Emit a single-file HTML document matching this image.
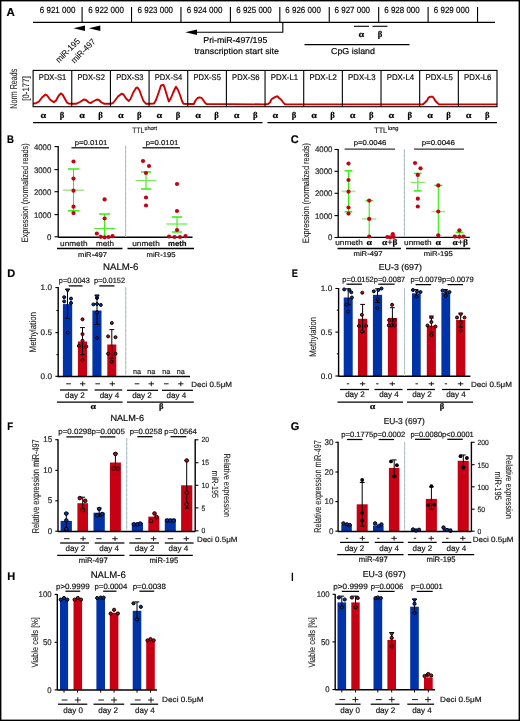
<!DOCTYPE html>
<html><head><meta charset="utf-8"><style>
html,body{margin:0;padding:0;background:#fff;}
svg{display:block;font-family:"Liberation Sans", sans-serif;will-change:transform;text-rendering:geometricPrecision;}
text{stroke:currentColor;stroke-width:0.18px;}
</style></head><body>
<svg width="520" height="721" viewBox="0 0 520 721">
<rect x="0.7" y="0.7" width="518.6" height="719.6" fill="none" stroke="#000" stroke-width="1.4"/>
<text x="6.60" y="15.90" font-size="11.5" text-anchor="start" font-weight="bold" >A</text>
<line x1="33.00" y1="22.40" x2="495.00" y2="22.40" stroke="#000" stroke-width="1.1" />
<line x1="82.10" y1="7.00" x2="82.10" y2="22.40" stroke="#000" stroke-width="1.1" />
<text x="57.60" y="12.65" font-size="8.8" text-anchor="middle" textLength="35.5" lengthAdjust="spacingAndGlyphs" >6 921 000</text>
<line x1="131.53" y1="7.00" x2="131.53" y2="22.40" stroke="#000" stroke-width="1.1" />
<text x="106.10" y="12.65" font-size="8.8" text-anchor="middle" textLength="35.5" lengthAdjust="spacingAndGlyphs" >6 922 000</text>
<line x1="180.96" y1="7.00" x2="180.96" y2="22.40" stroke="#000" stroke-width="1.1" />
<text x="155.30" y="12.65" font-size="8.8" text-anchor="middle" textLength="35.5" lengthAdjust="spacingAndGlyphs" >6 923 000</text>
<line x1="230.39" y1="7.00" x2="230.39" y2="22.40" stroke="#000" stroke-width="1.1" />
<text x="204.60" y="12.65" font-size="8.8" text-anchor="middle" textLength="35.5" lengthAdjust="spacingAndGlyphs" >6 924 000</text>
<line x1="279.82" y1="7.00" x2="279.82" y2="22.40" stroke="#000" stroke-width="1.1" />
<text x="254.00" y="12.65" font-size="8.8" text-anchor="middle" textLength="35.5" lengthAdjust="spacingAndGlyphs" >6 925 000</text>
<line x1="329.25" y1="7.00" x2="329.25" y2="22.40" stroke="#000" stroke-width="1.1" />
<text x="303.10" y="12.65" font-size="8.8" text-anchor="middle" textLength="35.5" lengthAdjust="spacingAndGlyphs" >6 926 000</text>
<line x1="378.68" y1="7.00" x2="378.68" y2="22.40" stroke="#000" stroke-width="1.1" />
<text x="352.30" y="12.65" font-size="8.8" text-anchor="middle" textLength="35.5" lengthAdjust="spacingAndGlyphs" >6 927 000</text>
<line x1="428.11" y1="7.00" x2="428.11" y2="22.40" stroke="#000" stroke-width="1.1" />
<text x="402.00" y="12.65" font-size="8.8" text-anchor="middle" textLength="35.5" lengthAdjust="spacingAndGlyphs" >6 928 000</text>
<line x1="477.54" y1="7.00" x2="477.54" y2="22.40" stroke="#000" stroke-width="1.1" />
<text x="451.60" y="12.65" font-size="8.8" text-anchor="middle" textLength="35.5" lengthAdjust="spacingAndGlyphs" >6 929 000</text>
<polygon points="73.50,28.30 85.00,25.50 85.00,31.10" fill="#000"/>
<polygon points="88.80,28.30 100.30,25.50 100.30,31.10" fill="#000"/>
<text x="0" y="0" font-size="8.7" text-anchor="end" textLength="30.5" lengthAdjust="spacingAndGlyphs" style="stroke-width:0.08px" transform="translate(80.60,41.80) rotate(-45)">miR-195</text>
<text x="0" y="0" font-size="8.7" text-anchor="end" textLength="30.5" lengthAdjust="spacingAndGlyphs" style="stroke-width:0.08px" transform="translate(96.10,42.20) rotate(-45)">miR-497</text>
<polyline points="282.80,22.40 282.80,32.20 195.00,32.20" fill="none" stroke="#000" stroke-width="1.1" />
<polygon points="185.30,32.20 197.00,29.40 197.00,35.10" fill="#000"/>
<text x="235.30" y="42.80" font-size="8.6" text-anchor="middle" textLength="64" lengthAdjust="spacingAndGlyphs" >Pri-miR-497/195</text>
<text x="236.70" y="53.80" font-size="8.6" text-anchor="middle" textLength="84.6" lengthAdjust="spacingAndGlyphs" >transcription start site</text>
<line x1="354.00" y1="26.30" x2="369.00" y2="26.30" stroke="#000" stroke-width="1.1" />
<line x1="372.50" y1="26.30" x2="387.50" y2="26.30" stroke="#000" stroke-width="1.1" />
<text x="361.50" y="37.00" font-size="8.8" text-anchor="middle" font-weight="bold" font-family="Liberation Serif" textLength="5.72" lengthAdjust="spacingAndGlyphs" >α</text>
<text x="380.00" y="37.00" font-size="8.8" text-anchor="middle" font-weight="bold" font-family="Liberation Serif" >β</text>
<line x1="304.50" y1="44.60" x2="409.50" y2="44.60" stroke="#000" stroke-width="1.1" />
<text x="353.00" y="54.00" font-size="8.6" text-anchor="middle" textLength="44" lengthAdjust="spacingAndGlyphs" >CpG island</text>
<polyline points="33.10,103.60 36.00,103.20 39.00,101.50 42.00,97.50 45.40,94.50 47.00,95.30 50.00,99.50 53.80,102.20 56.00,100.50 58.50,96.00 60.80,93.40 62.50,94.50 65.00,99.00 67.00,102.50 68.50,103.60 71.70,103.80 76.00,103.80 80.00,102.00 83.80,99.50 86.00,100.00 88.50,102.30 90.80,103.00 93.00,101.50 96.90,99.50 99.00,100.00 101.50,102.50 104.00,103.70 110.70,103.80 113.00,103.00 115.00,100.50 118.00,96.50 121.60,93.70 123.50,94.50 126.00,98.50 128.80,101.00 130.50,99.00 133.00,93.00 136.00,88.00 137.50,87.50 139.50,90.50 141.50,96.00 143.50,101.00 145.80,103.70 148.80,103.80 154.00,103.50 156.00,100.00 158.50,93.00 161.00,85.50 163.50,84.80 165.00,89.00 166.50,94.00 168.80,101.50 170.50,99.00 173.00,93.00 175.00,88.50 176.00,86.70 178.00,90.00 180.00,95.00 182.00,101.00 183.50,103.70 187.70,104.00 193.80,104.00 195.50,100.50 197.50,98.00 199.70,97.30 201.50,97.80 203.50,100.50 205.00,102.80 206.50,104.00 265.00,104.40 268.00,104.00 270.00,102.50 271.50,99.20 274.00,97.60 276.00,96.60 277.50,96.30 279.00,98.00 281.00,99.50 282.50,101.50 284.50,104.00 286.00,104.40 419.20,104.40 423.00,104.30 425.00,102.50 427.00,100.50 428.50,97.60 430.00,96.80 432.50,96.60 434.00,98.50 435.50,101.00 437.50,103.00 439.00,104.40 497.00,104.40" fill="none" stroke="#cc0000" stroke-width="1.9" stroke-linejoin="round"/>
<rect x="33.1" y="70.4" width="463.9" height="36.3" fill="none" stroke="#000" stroke-width="1.1"/>
<text x="52.53" y="79.80" font-size="8.2" text-anchor="middle" fill="#111" textLength="27.4" lengthAdjust="spacingAndGlyphs" >PDX-S1</text>
<text x="43.45" y="117.90" font-size="8.8" text-anchor="middle" font-weight="bold" font-family="Liberation Serif" textLength="5.72" lengthAdjust="spacingAndGlyphs" >α</text>
<text x="62.00" y="117.90" font-size="8.8" text-anchor="middle" font-weight="bold" font-family="Liberation Serif" >β</text>
<line x1="71.76" y1="70.40" x2="71.76" y2="106.70" stroke="#000" stroke-width="1.1" />
<text x="91.19" y="79.80" font-size="8.2" text-anchor="middle" fill="#111" textLength="27.4" lengthAdjust="spacingAndGlyphs" >PDX-S2</text>
<text x="82.11" y="117.90" font-size="8.8" text-anchor="middle" font-weight="bold" font-family="Liberation Serif" textLength="5.72" lengthAdjust="spacingAndGlyphs" >α</text>
<text x="100.66" y="117.90" font-size="8.8" text-anchor="middle" font-weight="bold" font-family="Liberation Serif" >β</text>
<line x1="110.42" y1="70.40" x2="110.42" y2="106.70" stroke="#000" stroke-width="1.1" />
<text x="129.85" y="79.80" font-size="8.2" text-anchor="middle" fill="#111" textLength="27.4" lengthAdjust="spacingAndGlyphs" >PDX-S3</text>
<text x="120.77" y="117.90" font-size="8.8" text-anchor="middle" font-weight="bold" font-family="Liberation Serif" textLength="5.72" lengthAdjust="spacingAndGlyphs" >α</text>
<text x="139.32" y="117.90" font-size="8.8" text-anchor="middle" font-weight="bold" font-family="Liberation Serif" >β</text>
<line x1="149.07" y1="70.40" x2="149.07" y2="106.70" stroke="#000" stroke-width="1.1" />
<text x="168.50" y="79.80" font-size="8.2" text-anchor="middle" fill="#111" textLength="27.4" lengthAdjust="spacingAndGlyphs" >PDX-S4</text>
<text x="159.42" y="117.90" font-size="8.8" text-anchor="middle" font-weight="bold" font-family="Liberation Serif" textLength="5.72" lengthAdjust="spacingAndGlyphs" >α</text>
<text x="177.97" y="117.90" font-size="8.8" text-anchor="middle" font-weight="bold" font-family="Liberation Serif" >β</text>
<line x1="187.73" y1="70.40" x2="187.73" y2="106.70" stroke="#000" stroke-width="1.1" />
<text x="207.16" y="79.80" font-size="8.2" text-anchor="middle" fill="#111" textLength="27.4" lengthAdjust="spacingAndGlyphs" >PDX-S5</text>
<text x="198.08" y="117.90" font-size="8.8" text-anchor="middle" font-weight="bold" font-family="Liberation Serif" textLength="5.72" lengthAdjust="spacingAndGlyphs" >α</text>
<text x="216.63" y="117.90" font-size="8.8" text-anchor="middle" font-weight="bold" font-family="Liberation Serif" >β</text>
<line x1="226.39" y1="70.40" x2="226.39" y2="106.70" stroke="#000" stroke-width="1.1" />
<text x="245.82" y="79.80" font-size="8.2" text-anchor="middle" fill="#111" textLength="27.4" lengthAdjust="spacingAndGlyphs" >PDX-S6</text>
<text x="236.74" y="117.90" font-size="8.8" text-anchor="middle" font-weight="bold" font-family="Liberation Serif" textLength="5.72" lengthAdjust="spacingAndGlyphs" >α</text>
<text x="255.29" y="117.90" font-size="8.8" text-anchor="middle" font-weight="bold" font-family="Liberation Serif" >β</text>
<line x1="265.05" y1="70.40" x2="265.05" y2="106.70" stroke="#000" stroke-width="1.1" />
<text x="284.48" y="79.80" font-size="8.2" text-anchor="middle" fill="#111" textLength="27.4" lengthAdjust="spacingAndGlyphs" >PDX-L1</text>
<text x="275.40" y="117.90" font-size="8.8" text-anchor="middle" font-weight="bold" font-family="Liberation Serif" textLength="5.72" lengthAdjust="spacingAndGlyphs" >α</text>
<text x="293.95" y="117.90" font-size="8.8" text-anchor="middle" font-weight="bold" font-family="Liberation Serif" >β</text>
<line x1="303.71" y1="70.40" x2="303.71" y2="106.70" stroke="#000" stroke-width="1.1" />
<text x="323.14" y="79.80" font-size="8.2" text-anchor="middle" fill="#111" textLength="27.4" lengthAdjust="spacingAndGlyphs" >PDX-L2</text>
<text x="314.06" y="117.90" font-size="8.8" text-anchor="middle" font-weight="bold" font-family="Liberation Serif" textLength="5.72" lengthAdjust="spacingAndGlyphs" >α</text>
<text x="332.61" y="117.90" font-size="8.8" text-anchor="middle" font-weight="bold" font-family="Liberation Serif" >β</text>
<line x1="342.37" y1="70.40" x2="342.37" y2="106.70" stroke="#000" stroke-width="1.1" />
<text x="361.80" y="79.80" font-size="8.2" text-anchor="middle" fill="#111" textLength="27.4" lengthAdjust="spacingAndGlyphs" >PDX-L3</text>
<text x="352.72" y="117.90" font-size="8.8" text-anchor="middle" font-weight="bold" font-family="Liberation Serif" textLength="5.72" lengthAdjust="spacingAndGlyphs" >α</text>
<text x="371.27" y="117.90" font-size="8.8" text-anchor="middle" font-weight="bold" font-family="Liberation Serif" >β</text>
<line x1="381.02" y1="70.40" x2="381.02" y2="106.70" stroke="#000" stroke-width="1.1" />
<text x="400.45" y="79.80" font-size="8.2" text-anchor="middle" fill="#111" textLength="27.4" lengthAdjust="spacingAndGlyphs" >PDX-L4</text>
<text x="391.38" y="117.90" font-size="8.8" text-anchor="middle" font-weight="bold" font-family="Liberation Serif" textLength="5.72" lengthAdjust="spacingAndGlyphs" >α</text>
<text x="409.92" y="117.90" font-size="8.8" text-anchor="middle" font-weight="bold" font-family="Liberation Serif" >β</text>
<line x1="419.68" y1="70.40" x2="419.68" y2="106.70" stroke="#000" stroke-width="1.1" />
<text x="439.11" y="79.80" font-size="8.2" text-anchor="middle" fill="#111" textLength="27.4" lengthAdjust="spacingAndGlyphs" >PDX-L5</text>
<text x="430.03" y="117.90" font-size="8.8" text-anchor="middle" font-weight="bold" font-family="Liberation Serif" textLength="5.72" lengthAdjust="spacingAndGlyphs" >α</text>
<text x="448.58" y="117.90" font-size="8.8" text-anchor="middle" font-weight="bold" font-family="Liberation Serif" >β</text>
<line x1="458.34" y1="70.40" x2="458.34" y2="106.70" stroke="#000" stroke-width="1.1" />
<text x="477.77" y="79.80" font-size="8.2" text-anchor="middle" fill="#111" textLength="27.4" lengthAdjust="spacingAndGlyphs" >PDX-L6</text>
<text x="468.69" y="117.90" font-size="8.8" text-anchor="middle" font-weight="bold" font-family="Liberation Serif" textLength="5.72" lengthAdjust="spacingAndGlyphs" >α</text>
<text x="487.24" y="117.90" font-size="8.8" text-anchor="middle" font-weight="bold" font-family="Liberation Serif" >β</text>
<text x="0" y="0" font-size="10" text-anchor="middle" textLength="40" lengthAdjust="spacingAndGlyphs" fill="#222" style="stroke-width:0.08px" transform="translate(17.00,88.70) rotate(-90)">Norm Reads</text>
<text x="0" y="0" font-size="9.4" text-anchor="middle" textLength="24.5" lengthAdjust="spacingAndGlyphs" fill="#222" style="stroke-width:0.08px" transform="translate(29.10,88.50) rotate(-90)">[0-177]</text>
<line x1="33.00" y1="122.60" x2="262.50" y2="122.60" stroke="#000" stroke-width="1.3" />
<line x1="267.50" y1="122.60" x2="497.00" y2="122.60" stroke="#000" stroke-width="1.3" />
<text x="132.30" y="133.00" font-size="8" text-anchor="start" fill="#333" textLength="11.9" lengthAdjust="spacingAndGlyphs" >TTL</text>
<text x="144.60" y="130.00" font-size="5.6" text-anchor="start" fill="#333" textLength="12.4" lengthAdjust="spacingAndGlyphs" >short</text>
<text x="374.20" y="133.00" font-size="8" text-anchor="start" fill="#333" textLength="13" lengthAdjust="spacingAndGlyphs" >TTL</text>
<text x="387.70" y="129.60" font-size="5.6" text-anchor="start" fill="#333" textLength="10.8" lengthAdjust="spacingAndGlyphs" >long</text>
<text x="7.10" y="142.90" font-size="11" text-anchor="start" font-weight="bold" textLength="6.9" lengthAdjust="spacingAndGlyphs" >B</text>
<line x1="58.20" y1="146.10" x2="58.20" y2="237.30" stroke="#000" stroke-width="1.3" />
<line x1="54.50" y1="146.60" x2="58.20" y2="146.60" stroke="#000" stroke-width="1.1" />
<text x="51.30" y="149.50" font-size="8.1" text-anchor="end" fill="#333" textLength="17.4" lengthAdjust="spacingAndGlyphs" >4000</text>
<line x1="54.50" y1="169.60" x2="58.20" y2="169.60" stroke="#000" stroke-width="1.1" />
<text x="51.30" y="172.50" font-size="8.1" text-anchor="end" fill="#333" textLength="17.4" lengthAdjust="spacingAndGlyphs" >3000</text>
<line x1="54.50" y1="191.70" x2="58.20" y2="191.70" stroke="#000" stroke-width="1.1" />
<text x="51.30" y="194.60" font-size="8.1" text-anchor="end" fill="#333" textLength="17.4" lengthAdjust="spacingAndGlyphs" >2000</text>
<line x1="54.50" y1="214.60" x2="58.20" y2="214.60" stroke="#000" stroke-width="1.1" />
<text x="51.30" y="217.50" font-size="8.1" text-anchor="end" fill="#333" textLength="17.4" lengthAdjust="spacingAndGlyphs" >1000</text>
<line x1="54.50" y1="236.80" x2="58.20" y2="236.80" stroke="#000" stroke-width="1.1" />
<text x="51.30" y="239.70" font-size="8.1" text-anchor="end" fill="#333" textLength="4.35" lengthAdjust="spacingAndGlyphs" >0</text>
<text x="0" y="0" font-size="9.3" text-anchor="middle" textLength="99" lengthAdjust="spacingAndGlyphs" fill="#222" style="stroke-width:0.08px" transform="translate(28.40,192.80) rotate(-90)">Expression (normalized reads)</text>
<line x1="58.20" y1="237.30" x2="192.50" y2="237.30" stroke="#000" stroke-width="1.4" />
<line x1="125.60" y1="146.00" x2="125.60" y2="237.00" stroke="#b6c7cc" stroke-width="1.0" />
<line x1="125.60" y1="146.00" x2="125.60" y2="237.00" stroke="#aabcc1" stroke-width="1.0"  stroke-dasharray="3,1.6"/>
<text x="91.00" y="144.90" font-size="7" text-anchor="middle" fill="#222" textLength="32.7" lengthAdjust="spacingAndGlyphs" >p=0.0101</text>
<line x1="71.50" y1="147.70" x2="109.00" y2="147.70" stroke="#333" stroke-width="1.35" />
<text x="162.00" y="144.90" font-size="7" text-anchor="middle" fill="#222" textLength="32.7" lengthAdjust="spacingAndGlyphs" >p=0.0101</text>
<line x1="142.50" y1="147.70" x2="180.00" y2="147.70" stroke="#333" stroke-width="1.35" />
<line x1="73.50" y1="169.00" x2="73.50" y2="210.80" stroke="#30f00c" stroke-width="1.1" />
<line x1="68.00" y1="169.00" x2="79.00" y2="169.00" stroke="#30f00c" stroke-width="1.5" />
<line x1="68.00" y1="210.80" x2="79.00" y2="210.80" stroke="#30f00c" stroke-width="1.5" />
<line x1="63.00" y1="190.20" x2="84.00" y2="190.20" stroke="#b3e399" stroke-width="1.7" />
<circle cx="73.50" cy="161.50" r="2.1" fill="#c80014" stroke="none" stroke-width="0"/>
<circle cx="73.50" cy="178.60" r="2.1" fill="#c80014" stroke="none" stroke-width="0"/>
<circle cx="73.50" cy="190.70" r="2.1" fill="#c80014" stroke="none" stroke-width="0"/>
<circle cx="73.50" cy="206.70" r="2.1" fill="#c80014" stroke="none" stroke-width="0"/>
<circle cx="73.50" cy="213.10" r="2.1" fill="#c80014" stroke="none" stroke-width="0"/>
<line x1="104.60" y1="214.00" x2="104.60" y2="237.00" stroke="#30f00c" stroke-width="1.1" />
<line x1="99.10" y1="214.00" x2="110.10" y2="214.00" stroke="#30f00c" stroke-width="1.5" />
<line x1="94.10" y1="228.50" x2="115.10" y2="228.50" stroke="#4ef02a" stroke-width="1.1" />
<circle cx="104.60" cy="199.40" r="2.1" fill="#c80014" stroke="none" stroke-width="0"/>
<circle cx="104.60" cy="218.50" r="2.1" fill="#c80014" stroke="none" stroke-width="0"/>
<circle cx="96.80" cy="233.50" r="2.1" fill="#c80014" stroke="none" stroke-width="0"/>
<circle cx="100.70" cy="236.80" r="2.1" fill="#c80014" stroke="none" stroke-width="0"/>
<circle cx="104.60" cy="237.30" r="2.1" fill="#c80014" stroke="none" stroke-width="0"/>
<circle cx="108.50" cy="237.00" r="2.1" fill="#c80014" stroke="none" stroke-width="0"/>
<circle cx="112.50" cy="236.20" r="2.1" fill="#c80014" stroke="none" stroke-width="0"/>
<line x1="146.00" y1="172.00" x2="146.00" y2="189.00" stroke="#30f00c" stroke-width="1.1" />
<line x1="141.00" y1="172.00" x2="151.00" y2="172.00" stroke="#30f00c" stroke-width="1.5" />
<line x1="141.00" y1="189.00" x2="151.00" y2="189.00" stroke="#30f00c" stroke-width="1.5" />
<line x1="135.50" y1="180.50" x2="156.50" y2="180.50" stroke="#7ee35a" stroke-width="1.1" />
<circle cx="143.00" cy="161.00" r="2.1" fill="#c80014" stroke="none" stroke-width="0"/>
<circle cx="149.00" cy="166.00" r="2.1" fill="#c80014" stroke="none" stroke-width="0"/>
<circle cx="146.00" cy="173.00" r="2.1" fill="#c80014" stroke="none" stroke-width="0"/>
<circle cx="146.00" cy="197.50" r="2.1" fill="#c80014" stroke="none" stroke-width="0"/>
<circle cx="146.00" cy="205.50" r="2.1" fill="#c80014" stroke="none" stroke-width="0"/>
<line x1="177.00" y1="217.00" x2="177.00" y2="232.00" stroke="#30f00c" stroke-width="1.1" />
<line x1="172.00" y1="217.00" x2="182.00" y2="217.00" stroke="#30f00c" stroke-width="1.5" />
<line x1="172.00" y1="232.00" x2="182.00" y2="232.00" stroke="#30f00c" stroke-width="1.5" />
<line x1="166.50" y1="224.00" x2="187.50" y2="224.00" stroke="#4ef02a" stroke-width="1.1" />
<circle cx="177.00" cy="184.00" r="2.1" fill="#c80014" stroke="none" stroke-width="0"/>
<circle cx="177.00" cy="211.00" r="2.1" fill="#c80014" stroke="none" stroke-width="0"/>
<circle cx="177.00" cy="230.00" r="2.1" fill="#c80014" stroke="none" stroke-width="0"/>
<circle cx="169.00" cy="236.50" r="2.1" fill="#c80014" stroke="none" stroke-width="0"/>
<circle cx="174.50" cy="237.00" r="2.1" fill="#c80014" stroke="none" stroke-width="0"/>
<circle cx="180.00" cy="237.00" r="2.1" fill="#c80014" stroke="none" stroke-width="0"/>
<circle cx="185.50" cy="236.20" r="2.1" fill="#c80014" stroke="none" stroke-width="0"/>
<text x="73.80" y="245.70" font-size="7.6" text-anchor="middle" fill="#222" textLength="27.5" lengthAdjust="spacingAndGlyphs" >unmeth</text>
<text x="105.00" y="245.70" font-size="7.6" text-anchor="middle" fill="#222" textLength="18" lengthAdjust="spacingAndGlyphs" >meth</text>
<text x="146.00" y="245.70" font-size="7.6" text-anchor="middle" fill="#222" textLength="27.5" lengthAdjust="spacingAndGlyphs" >unmeth</text>
<text x="177.30" y="245.70" font-size="7.6" text-anchor="middle" font-weight="bold" fill="#111" textLength="18.6" lengthAdjust="spacingAndGlyphs" >meth</text>
<line x1="57.00" y1="248.50" x2="122.50" y2="248.50" stroke="#000" stroke-width="1.3" />
<line x1="127.50" y1="248.50" x2="194.00" y2="248.50" stroke="#000" stroke-width="1.3" />
<text x="92.50" y="257.00" font-size="7" text-anchor="middle" fill="#222" textLength="29" lengthAdjust="spacingAndGlyphs" >miR-497</text>
<text x="161.00" y="257.00" font-size="7" text-anchor="middle" fill="#222" textLength="29" lengthAdjust="spacingAndGlyphs" >miR-195</text>
<text x="290.80" y="142.90" font-size="11" text-anchor="start" font-weight="bold" >C</text>
<line x1="338.20" y1="149.00" x2="338.20" y2="238.00" stroke="#000" stroke-width="1.3" />
<line x1="334.50" y1="149.50" x2="338.20" y2="149.50" stroke="#000" stroke-width="1.1" />
<text x="332.40" y="152.40" font-size="8.1" text-anchor="end" fill="#333" textLength="17.4" lengthAdjust="spacingAndGlyphs" >4000</text>
<line x1="334.50" y1="171.30" x2="338.20" y2="171.30" stroke="#000" stroke-width="1.1" />
<text x="332.40" y="174.20" font-size="8.1" text-anchor="end" fill="#333" textLength="17.4" lengthAdjust="spacingAndGlyphs" >3000</text>
<line x1="334.50" y1="193.30" x2="338.20" y2="193.30" stroke="#000" stroke-width="1.1" />
<text x="332.40" y="196.20" font-size="8.1" text-anchor="end" fill="#333" textLength="17.4" lengthAdjust="spacingAndGlyphs" >2000</text>
<line x1="334.50" y1="215.60" x2="338.20" y2="215.60" stroke="#000" stroke-width="1.1" />
<text x="332.40" y="218.50" font-size="8.1" text-anchor="end" fill="#333" textLength="17.4" lengthAdjust="spacingAndGlyphs" >1000</text>
<line x1="334.50" y1="237.50" x2="338.20" y2="237.50" stroke="#000" stroke-width="1.1" />
<text x="332.40" y="240.40" font-size="8.1" text-anchor="end" fill="#333" textLength="4.35" lengthAdjust="spacingAndGlyphs" >0</text>
<text x="0" y="0" font-size="9.3" text-anchor="middle" textLength="100" lengthAdjust="spacingAndGlyphs" fill="#222" style="stroke-width:0.08px" transform="translate(309.30,193.00) rotate(-90)">Expression (normalized reads)</text>
<line x1="338.20" y1="237.40" x2="469.80" y2="237.40" stroke="#000" stroke-width="1.4" />
<line x1="404.40" y1="149.50" x2="404.40" y2="237.00" stroke="#b6c7cc" stroke-width="1.0" />
<line x1="404.40" y1="149.50" x2="404.40" y2="237.00" stroke="#aabcc1" stroke-width="1.0"  stroke-dasharray="3,1.6"/>
<text x="370.00" y="145.40" font-size="7" text-anchor="middle" fill="#222" textLength="32.7" lengthAdjust="spacingAndGlyphs" >p=0.0046</text>
<line x1="344.60" y1="149.10" x2="395.00" y2="149.10" stroke="#333" stroke-width="1.35" />
<text x="438.30" y="145.40" font-size="7" text-anchor="middle" fill="#222" textLength="33.3" lengthAdjust="spacingAndGlyphs" >p=0.0046</text>
<line x1="414.10" y1="149.10" x2="464.00" y2="149.10" stroke="#333" stroke-width="1.35" />
<line x1="348.50" y1="170.80" x2="348.50" y2="211.70" stroke="#30f00c" stroke-width="1.1" />
<line x1="344.60" y1="170.80" x2="352.40" y2="170.80" stroke="#30f00c" stroke-width="1.5" />
<line x1="344.60" y1="211.70" x2="352.40" y2="211.70" stroke="#30f00c" stroke-width="1.5" />
<line x1="341.50" y1="191.40" x2="355.50" y2="191.40" stroke="#b3e399" stroke-width="1.7" />
<circle cx="348.50" cy="163.60" r="2.1" fill="#c80014" stroke="none" stroke-width="0"/>
<circle cx="348.50" cy="180.00" r="2.1" fill="#c80014" stroke="none" stroke-width="0"/>
<circle cx="348.50" cy="191.70" r="2.1" fill="#c80014" stroke="none" stroke-width="0"/>
<circle cx="348.50" cy="207.50" r="2.1" fill="#c80014" stroke="none" stroke-width="0"/>
<circle cx="348.50" cy="213.60" r="2.1" fill="#c80014" stroke="none" stroke-width="0"/>
<line x1="369.20" y1="200.60" x2="369.20" y2="237.00" stroke="#30f00c" stroke-width="1.1" />
<line x1="365.50" y1="200.60" x2="372.90" y2="200.60" stroke="#30f00c" stroke-width="1.5" />
<line x1="362.20" y1="218.90" x2="376.20" y2="218.90" stroke="#b3e399" stroke-width="1.7" />
<circle cx="369.20" cy="200.60" r="2.1" fill="#c80014" stroke="none" stroke-width="0"/>
<circle cx="369.20" cy="218.90" r="2.1" fill="#c80014" stroke="none" stroke-width="0"/>
<circle cx="369.20" cy="236.50" r="2.1" fill="#c80014" stroke="none" stroke-width="0"/>
<circle cx="387.30" cy="237.00" r="2.1" fill="#c80014" stroke="none" stroke-width="0"/>
<circle cx="390.20" cy="237.30" r="2.1" fill="#c80014" stroke="none" stroke-width="0"/>
<circle cx="392.80" cy="234.20" r="2.1" fill="#c80014" stroke="none" stroke-width="0"/>
<circle cx="393.60" cy="237.00" r="2.1" fill="#c80014" stroke="none" stroke-width="0"/>
<line x1="417.80" y1="173.40" x2="417.80" y2="190.90" stroke="#30f00c" stroke-width="1.1" />
<line x1="414.00" y1="173.40" x2="421.60" y2="173.40" stroke="#30f00c" stroke-width="1.5" />
<line x1="414.00" y1="190.90" x2="421.60" y2="190.90" stroke="#30f00c" stroke-width="1.5" />
<line x1="410.70" y1="182.40" x2="424.90" y2="182.40" stroke="#7ee35a" stroke-width="1.1" />
<circle cx="415.00" cy="163.00" r="2.1" fill="#c80014" stroke="none" stroke-width="0"/>
<circle cx="420.50" cy="168.30" r="2.1" fill="#c80014" stroke="none" stroke-width="0"/>
<circle cx="417.80" cy="174.90" r="2.1" fill="#c80014" stroke="none" stroke-width="0"/>
<circle cx="417.80" cy="198.70" r="2.1" fill="#c80014" stroke="none" stroke-width="0"/>
<circle cx="417.80" cy="206.50" r="2.1" fill="#c80014" stroke="none" stroke-width="0"/>
<line x1="438.30" y1="185.40" x2="438.30" y2="237.00" stroke="#30f00c" stroke-width="1.1" />
<line x1="434.30" y1="185.40" x2="442.30" y2="185.40" stroke="#30f00c" stroke-width="1.5" />
<line x1="431.60" y1="211.50" x2="445.00" y2="211.50" stroke="#b3e399" stroke-width="1.7" />
<circle cx="438.30" cy="185.40" r="2.1" fill="#c80014" stroke="none" stroke-width="0"/>
<circle cx="438.30" cy="211.50" r="2.1" fill="#c80014" stroke="none" stroke-width="0"/>
<circle cx="438.30" cy="235.30" r="2.1" fill="#c80014" stroke="none" stroke-width="0"/>
<line x1="455.70" y1="232.30" x2="463.20" y2="232.30" stroke="#30f00c" stroke-width="1.5" />
<line x1="459.40" y1="232.30" x2="459.40" y2="237.00" stroke="#30f00c" stroke-width="1.1" />
<line x1="453.20" y1="235.30" x2="465.70" y2="235.30" stroke="#a6dd8a" stroke-width="1.0" />
<circle cx="459.40" cy="230.30" r="2.1" fill="#c80014" stroke="none" stroke-width="0"/>
<circle cx="454.90" cy="236.60" r="2.1" fill="#c80014" stroke="none" stroke-width="0"/>
<circle cx="459.40" cy="236.80" r="2.1" fill="#c80014" stroke="none" stroke-width="0"/>
<circle cx="463.50" cy="236.60" r="2.1" fill="#c80014" stroke="none" stroke-width="0"/>
<text x="349.00" y="245.20" font-size="7.4" text-anchor="middle" fill="#222" textLength="27.5" lengthAdjust="spacingAndGlyphs" >unmeth</text>
<text x="417.80" y="245.20" font-size="7.4" text-anchor="middle" fill="#222" textLength="27.5" lengthAdjust="spacingAndGlyphs" >unmeth</text>
<text x="369.20" y="245.20" font-size="8.5" text-anchor="middle" font-weight="bold" font-family="Liberation Serif" textLength="5.53" lengthAdjust="spacingAndGlyphs" >α</text>
<text x="438.30" y="245.20" font-size="8.5" text-anchor="middle" font-weight="bold" font-family="Liberation Serif" textLength="5.53" lengthAdjust="spacingAndGlyphs" >α</text>
<text x="389.80" y="245.20" font-size="8.5" text-anchor="middle" font-weight="bold" font-family="Liberation Serif" textLength="15.5" lengthAdjust="spacingAndGlyphs" >α+β</text>
<text x="460.30" y="245.20" font-size="8.5" text-anchor="middle" font-weight="bold" font-family="Liberation Serif" textLength="15.5" lengthAdjust="spacingAndGlyphs" >α+β</text>
<line x1="337.50" y1="248.50" x2="401.00" y2="248.50" stroke="#000" stroke-width="1.3" />
<line x1="406.00" y1="248.50" x2="470.30" y2="248.50" stroke="#000" stroke-width="1.3" />
<text x="368.00" y="256.30" font-size="7" text-anchor="middle" fill="#222" textLength="29" lengthAdjust="spacingAndGlyphs" >miR-497</text>
<text x="438.30" y="256.30" font-size="7" text-anchor="middle" fill="#222" textLength="29" lengthAdjust="spacingAndGlyphs" >miR-195</text>
<text x="7.30" y="277.30" font-size="11" text-anchor="start" font-weight="bold" >D</text>
<text x="120.70" y="270.40" font-size="9.6" text-anchor="middle" fill="#111" textLength="35.5" lengthAdjust="spacingAndGlyphs" >NALM-6</text>
<line x1="58.20" y1="287.10" x2="58.20" y2="377.20" stroke="#000" stroke-width="1.4" />
<line x1="55.40" y1="287.60" x2="58.20" y2="287.60" stroke="#000" stroke-width="1.1" />
<text x="52.00" y="290.20" font-size="8.0" text-anchor="end" fill="#333" textLength="11.4" lengthAdjust="spacingAndGlyphs" >1.0</text>
<line x1="55.40" y1="332.60" x2="58.20" y2="332.60" stroke="#000" stroke-width="1.1" />
<text x="52.00" y="335.20" font-size="8.0" text-anchor="end" fill="#333" textLength="11.4" lengthAdjust="spacingAndGlyphs" >0.5</text>
<line x1="55.40" y1="376.30" x2="58.20" y2="376.30" stroke="#000" stroke-width="1.1" />
<text x="52.00" y="378.90" font-size="8.0" text-anchor="end" fill="#333" textLength="11.4" lengthAdjust="spacingAndGlyphs" >0.0</text>
<line x1="56.40" y1="310.50" x2="58.20" y2="310.50" stroke="#000" stroke-width="1.0" />
<line x1="56.40" y1="354.70" x2="58.20" y2="354.70" stroke="#000" stroke-width="1.0" />
<text x="0" y="0" font-size="9.5" text-anchor="middle" textLength="40.4" lengthAdjust="spacingAndGlyphs" fill="#222" style="stroke-width:0.08px" transform="translate(36.10,332.20) rotate(-90)">Methylation</text>
<rect x="62.90" y="304.10" width="9.30" height="72.20" fill="#0033a8" />
<rect x="77.90" y="341.50" width="9.10" height="34.80" fill="#c80014" />
<rect x="92.40" y="310.50" width="9.10" height="65.80" fill="#0033a8" />
<rect x="107.30" y="344.50" width="9.00" height="31.80" fill="#c80014" />
<line x1="67.50" y1="289.50" x2="67.50" y2="318.40" stroke="#000" stroke-width="1.0" />
<line x1="65.10" y1="289.50" x2="69.90" y2="289.50" stroke="#000" stroke-width="1.0" />
<line x1="65.10" y1="318.40" x2="69.90" y2="318.40" stroke="#000" stroke-width="1.0" />
<line x1="82.50" y1="327.60" x2="82.50" y2="354.70" stroke="#000" stroke-width="1.0" />
<line x1="80.10" y1="327.60" x2="84.90" y2="327.60" stroke="#000" stroke-width="1.0" />
<line x1="80.10" y1="354.70" x2="84.90" y2="354.70" stroke="#000" stroke-width="1.0" />
<line x1="97.00" y1="295.70" x2="97.00" y2="324.50" stroke="#000" stroke-width="1.0" />
<line x1="94.60" y1="295.70" x2="99.40" y2="295.70" stroke="#000" stroke-width="1.0" />
<line x1="94.60" y1="324.50" x2="99.40" y2="324.50" stroke="#000" stroke-width="1.0" />
<line x1="111.80" y1="329.60" x2="111.80" y2="358.20" stroke="#000" stroke-width="1.0" />
<line x1="109.40" y1="329.60" x2="114.20" y2="329.60" stroke="#000" stroke-width="1.0" />
<line x1="109.40" y1="358.20" x2="114.20" y2="358.20" stroke="#000" stroke-width="1.0" />
<circle cx="64.20" cy="297.20" r="1.5" fill="#0033a8" stroke="#000" stroke-width="1.0"/>
<circle cx="64.20" cy="301.40" r="1.5" fill="#0033a8" stroke="#000" stroke-width="1.0"/>
<circle cx="71.00" cy="298.60" r="1.5" fill="#0033a8" stroke="#000" stroke-width="1.0"/>
<circle cx="71.00" cy="302.90" r="1.5" fill="#0033a8" stroke="#000" stroke-width="1.0"/>
<circle cx="67.70" cy="332.60" r="1.5" fill="#0033a8" stroke="#000" stroke-width="1.0"/>
<polygon points="65.60,288.90 69.60,288.90 67.60,292.50" fill="#0033a8" stroke="#000" stroke-width="0.9"/>
<circle cx="82.50" cy="319.30" r="1.5" fill="#c80014" stroke="#000" stroke-width="1.0"/>
<circle cx="82.50" cy="334.10" r="1.5" fill="#c80014" stroke="#000" stroke-width="1.0"/>
<circle cx="82.50" cy="340.70" r="1.5" fill="#c80014" stroke="#000" stroke-width="1.0"/>
<circle cx="78.90" cy="345.90" r="1.5" fill="#c80014" stroke="#000" stroke-width="1.0"/>
<circle cx="86.30" cy="346.60" r="1.5" fill="#c80014" stroke="#000" stroke-width="1.0"/>
<circle cx="82.50" cy="360.10" r="1.5" fill="#c80014" stroke="#000" stroke-width="1.0"/>
<circle cx="97.00" cy="298.00" r="1.5" fill="#0033a8" stroke="#000" stroke-width="1.0"/>
<circle cx="93.40" cy="304.40" r="1.5" fill="#0033a8" stroke="#000" stroke-width="1.0"/>
<circle cx="97.00" cy="304.00" r="1.5" fill="#0033a8" stroke="#000" stroke-width="1.0"/>
<circle cx="100.80" cy="304.90" r="1.5" fill="#0033a8" stroke="#000" stroke-width="1.0"/>
<circle cx="97.00" cy="312.30" r="1.5" fill="#0033a8" stroke="#000" stroke-width="1.0"/>
<circle cx="97.00" cy="338.00" r="1.5" fill="#0033a8" stroke="#000" stroke-width="1.0"/>
<polygon points="95.00,294.90 99.00,294.90 97.00,298.50" fill="#0033a8" stroke="#000" stroke-width="0.9"/>
<circle cx="111.80" cy="323.00" r="1.5" fill="#c80014" stroke="#000" stroke-width="1.0"/>
<circle cx="108.10" cy="336.40" r="1.5" fill="#c80014" stroke="#000" stroke-width="1.0"/>
<circle cx="115.50" cy="337.20" r="1.5" fill="#c80014" stroke="#000" stroke-width="1.0"/>
<circle cx="108.10" cy="353.70" r="1.5" fill="#c80014" stroke="#000" stroke-width="1.0"/>
<circle cx="115.50" cy="353.70" r="1.5" fill="#c80014" stroke="#000" stroke-width="1.0"/>
<circle cx="111.80" cy="361.60" r="1.5" fill="#c80014" stroke="#000" stroke-width="1.0"/>
<line x1="58.20" y1="376.50" x2="190.00" y2="376.50" stroke="#000" stroke-width="1.5" />
<line x1="125.70" y1="287.50" x2="125.70" y2="376.00" stroke="#b6c7cc" stroke-width="0.9" />
<line x1="125.70" y1="287.50" x2="125.70" y2="376.00" stroke="#aabcc1" stroke-width="0.9"  stroke-dasharray="3,1.6"/>
<text x="74.30" y="283.30" font-size="7.6" text-anchor="middle" fill="#222" textLength="31" lengthAdjust="spacingAndGlyphs" >p=0.0043</text>
<line x1="68.70" y1="285.90" x2="82.50" y2="285.90" stroke="#000" stroke-width="1.25" />
<text x="109.50" y="283.30" font-size="7.6" text-anchor="middle" fill="#222" textLength="31" lengthAdjust="spacingAndGlyphs" >p=0.0152</text>
<line x1="99.20" y1="285.90" x2="114.50" y2="285.90" stroke="#000" stroke-width="1.25" />
<text x="137.00" y="374.30" font-size="7.4" text-anchor="middle" fill="#333" textLength="8" lengthAdjust="spacingAndGlyphs" >na</text>
<text x="151.25" y="374.30" font-size="7.4" text-anchor="middle" fill="#333" textLength="8" lengthAdjust="spacingAndGlyphs" >na</text>
<text x="166.25" y="374.30" font-size="7.4" text-anchor="middle" fill="#333" textLength="8" lengthAdjust="spacingAndGlyphs" >na</text>
<text x="180.75" y="374.30" font-size="7.4" text-anchor="middle" fill="#333" textLength="8" lengthAdjust="spacingAndGlyphs" >na</text>
<line x1="66.20" y1="383.80" x2="70.80" y2="383.80" stroke="#1a1a1a" stroke-width="1.0" />
<line x1="80.00" y1="383.80" x2="85.40" y2="383.80" stroke="#1a1a1a" stroke-width="1.0" />
<line x1="82.70" y1="381.45" x2="82.70" y2="386.15" stroke="#1a1a1a" stroke-width="1.0" />
<line x1="95.40" y1="383.80" x2="100.00" y2="383.80" stroke="#1a1a1a" stroke-width="1.0" />
<line x1="109.60" y1="383.80" x2="115.00" y2="383.80" stroke="#1a1a1a" stroke-width="1.0" />
<line x1="112.30" y1="381.45" x2="112.30" y2="386.15" stroke="#1a1a1a" stroke-width="1.0" />
<line x1="134.70" y1="383.80" x2="139.30" y2="383.80" stroke="#1a1a1a" stroke-width="1.0" />
<line x1="148.60" y1="383.80" x2="154.00" y2="383.80" stroke="#1a1a1a" stroke-width="1.0" />
<line x1="151.30" y1="381.45" x2="151.30" y2="386.15" stroke="#1a1a1a" stroke-width="1.0" />
<line x1="164.00" y1="383.80" x2="168.60" y2="383.80" stroke="#1a1a1a" stroke-width="1.0" />
<line x1="178.10" y1="383.80" x2="183.50" y2="383.80" stroke="#1a1a1a" stroke-width="1.0" />
<line x1="180.80" y1="381.45" x2="180.80" y2="386.15" stroke="#1a1a1a" stroke-width="1.0" />
<text x="191.30" y="387.00" font-size="7.6" text-anchor="start" fill="#222" textLength="40.7" lengthAdjust="spacingAndGlyphs" >Deci 0.5μM</text>
<line x1="60.00" y1="390.00" x2="87.70" y2="390.00" stroke="#000" stroke-width="1.25" />
<line x1="94.60" y1="390.00" x2="122.30" y2="390.00" stroke="#000" stroke-width="1.25" />
<line x1="127.00" y1="390.30" x2="158.00" y2="390.30" stroke="#000" stroke-width="1.25" />
<line x1="162.00" y1="390.30" x2="193.00" y2="390.30" stroke="#000" stroke-width="1.25" />
<text x="74.80" y="397.60" font-size="8" text-anchor="middle" fill="#222" textLength="19.7" lengthAdjust="spacingAndGlyphs" >day 2</text>
<text x="109.50" y="397.60" font-size="8" text-anchor="middle" fill="#222" textLength="19.7" lengthAdjust="spacingAndGlyphs" >day 4</text>
<text x="142.00" y="397.60" font-size="8" text-anchor="middle" fill="#222" textLength="19.7" lengthAdjust="spacingAndGlyphs" >day 2</text>
<text x="176.30" y="397.60" font-size="8" text-anchor="middle" fill="#222" textLength="19.7" lengthAdjust="spacingAndGlyphs" >day 4</text>
<line x1="56.90" y1="402.00" x2="122.60" y2="402.00" stroke="#000" stroke-width="1.25" />
<line x1="127.00" y1="402.00" x2="193.80" y2="402.00" stroke="#000" stroke-width="1.25" />
<text x="93.40" y="409.20" font-size="8.5" text-anchor="middle" font-weight="bold" font-family="Liberation Serif" textLength="5.53" lengthAdjust="spacingAndGlyphs" >α</text>
<text x="161.30" y="409.20" font-size="8.5" text-anchor="middle" font-weight="bold" font-family="Liberation Serif" >β</text>
<text x="291.80" y="276.90" font-size="11" text-anchor="start" font-weight="bold" textLength="6.2" lengthAdjust="spacingAndGlyphs" >E</text>
<text x="400.30" y="269.70" font-size="8.6" text-anchor="middle" fill="#111" textLength="43.2" lengthAdjust="spacingAndGlyphs" >EU-3 (697)</text>
<line x1="338.60" y1="288.00" x2="338.60" y2="376.60" stroke="#000" stroke-width="1.4" />
<line x1="335.40" y1="288.50" x2="338.60" y2="288.50" stroke="#000" stroke-width="1.1" />
<text x="332.20" y="291.10" font-size="8.0" text-anchor="end" fill="#333" textLength="11.4" lengthAdjust="spacingAndGlyphs" >1.0</text>
<line x1="335.40" y1="332.10" x2="338.60" y2="332.10" stroke="#000" stroke-width="1.1" />
<text x="332.20" y="334.70" font-size="8.0" text-anchor="end" fill="#333" textLength="11.4" lengthAdjust="spacingAndGlyphs" >0.5</text>
<line x1="335.40" y1="376.00" x2="338.60" y2="376.00" stroke="#000" stroke-width="1.1" />
<text x="332.20" y="378.60" font-size="8.0" text-anchor="end" fill="#333" textLength="11.4" lengthAdjust="spacingAndGlyphs" >0.0</text>
<line x1="336.80" y1="310.20" x2="338.60" y2="310.20" stroke="#000" stroke-width="1.0" />
<line x1="336.80" y1="353.80" x2="338.60" y2="353.80" stroke="#000" stroke-width="1.0" />
<text x="0" y="0" font-size="9.5" text-anchor="middle" textLength="39.8" lengthAdjust="spacingAndGlyphs" fill="#222" style="stroke-width:0.08px" transform="translate(316.30,336.80) rotate(-90)">Methylation</text>
<rect x="343.70" y="297.50" width="9.00" height="78.50" fill="#0033a8" />
<rect x="358.00" y="318.80" width="9.30" height="57.20" fill="#c80014" />
<rect x="372.90" y="294.80" width="9.20" height="81.20" fill="#0033a8" />
<rect x="387.90" y="317.90" width="9.00" height="58.10" fill="#c80014" />
<rect x="412.00" y="293.30" width="8.70" height="82.70" fill="#0033a8" />
<rect x="426.80" y="325.70" width="9.10" height="50.30" fill="#c80014" />
<rect x="441.40" y="292.50" width="8.80" height="83.50" fill="#0033a8" />
<rect x="456.10" y="320.00" width="9.20" height="56.00" fill="#c80014" />
<line x1="348.20" y1="288.80" x2="348.20" y2="304.80" stroke="#000" stroke-width="1.0" />
<line x1="345.80" y1="288.80" x2="350.60" y2="288.80" stroke="#000" stroke-width="1.0" />
<line x1="345.80" y1="304.80" x2="350.60" y2="304.80" stroke="#000" stroke-width="1.0" />
<line x1="362.60" y1="304.40" x2="362.60" y2="332.10" stroke="#000" stroke-width="1.0" />
<line x1="360.20" y1="304.40" x2="365.00" y2="304.40" stroke="#000" stroke-width="1.0" />
<line x1="360.20" y1="332.10" x2="365.00" y2="332.10" stroke="#000" stroke-width="1.0" />
<line x1="377.50" y1="288.80" x2="377.50" y2="302.50" stroke="#000" stroke-width="1.0" />
<line x1="375.10" y1="288.80" x2="379.90" y2="288.80" stroke="#000" stroke-width="1.0" />
<line x1="375.10" y1="302.50" x2="379.90" y2="302.50" stroke="#000" stroke-width="1.0" />
<line x1="392.40" y1="307.70" x2="392.40" y2="326.00" stroke="#000" stroke-width="1.0" />
<line x1="390.00" y1="307.70" x2="394.80" y2="307.70" stroke="#000" stroke-width="1.0" />
<line x1="390.00" y1="326.00" x2="394.80" y2="326.00" stroke="#000" stroke-width="1.0" />
<line x1="416.40" y1="289.50" x2="416.40" y2="296.50" stroke="#000" stroke-width="1.0" />
<line x1="414.40" y1="289.50" x2="418.40" y2="289.50" stroke="#000" stroke-width="1.0" />
<line x1="414.40" y1="296.50" x2="418.40" y2="296.50" stroke="#000" stroke-width="1.0" />
<line x1="431.40" y1="318.00" x2="431.40" y2="332.00" stroke="#000" stroke-width="1.0" />
<line x1="429.00" y1="318.00" x2="433.80" y2="318.00" stroke="#000" stroke-width="1.0" />
<line x1="429.00" y1="332.00" x2="433.80" y2="332.00" stroke="#000" stroke-width="1.0" />
<line x1="445.80" y1="289.50" x2="445.80" y2="296.00" stroke="#000" stroke-width="1.0" />
<line x1="443.80" y1="289.50" x2="447.80" y2="289.50" stroke="#000" stroke-width="1.0" />
<line x1="443.80" y1="296.00" x2="447.80" y2="296.00" stroke="#000" stroke-width="1.0" />
<line x1="460.70" y1="314.00" x2="460.70" y2="327.00" stroke="#000" stroke-width="1.0" />
<line x1="458.30" y1="314.00" x2="463.10" y2="314.00" stroke="#000" stroke-width="1.0" />
<line x1="458.30" y1="327.00" x2="463.10" y2="327.00" stroke="#000" stroke-width="1.0" />
<circle cx="344.20" cy="289.40" r="1.5" fill="#0033a8" stroke="#000" stroke-width="1.0"/>
<circle cx="349.40" cy="290.00" r="1.5" fill="#0033a8" stroke="#000" stroke-width="1.0"/>
<circle cx="351.30" cy="292.30" r="1.5" fill="#0033a8" stroke="#000" stroke-width="1.0"/>
<circle cx="351.90" cy="297.50" r="1.5" fill="#0033a8" stroke="#000" stroke-width="1.0"/>
<circle cx="346.50" cy="304.80" r="1.5" fill="#0033a8" stroke="#000" stroke-width="1.0"/>
<circle cx="348.10" cy="311.50" r="1.5" fill="#0033a8" stroke="#000" stroke-width="1.0"/>
<circle cx="362.30" cy="292.70" r="1.5" fill="#c80014" stroke="#000" stroke-width="1.0"/>
<circle cx="361.90" cy="314.80" r="1.5" fill="#c80014" stroke="#000" stroke-width="1.0"/>
<circle cx="359.00" cy="326.00" r="1.5" fill="#c80014" stroke="#000" stroke-width="1.0"/>
<circle cx="366.20" cy="326.00" r="1.5" fill="#c80014" stroke="#000" stroke-width="1.0"/>
<circle cx="361.90" cy="331.70" r="1.5" fill="#c80014" stroke="#000" stroke-width="1.0"/>
<circle cx="373.80" cy="291.30" r="1.5" fill="#0033a8" stroke="#000" stroke-width="1.0"/>
<circle cx="378.30" cy="290.00" r="1.5" fill="#0033a8" stroke="#000" stroke-width="1.0"/>
<circle cx="381.50" cy="288.50" r="1.5" fill="#0033a8" stroke="#000" stroke-width="1.0"/>
<circle cx="377.70" cy="299.60" r="1.5" fill="#0033a8" stroke="#000" stroke-width="1.0"/>
<circle cx="377.30" cy="308.10" r="1.5" fill="#0033a8" stroke="#000" stroke-width="1.0"/>
<circle cx="392.10" cy="304.80" r="1.5" fill="#c80014" stroke="#000" stroke-width="1.0"/>
<circle cx="389.20" cy="320.20" r="1.5" fill="#c80014" stroke="#000" stroke-width="1.0"/>
<circle cx="394.60" cy="320.20" r="1.5" fill="#c80014" stroke="#000" stroke-width="1.0"/>
<circle cx="388.80" cy="325.40" r="1.5" fill="#c80014" stroke="#000" stroke-width="1.0"/>
<circle cx="391.70" cy="325.40" r="1.5" fill="#c80014" stroke="#000" stroke-width="1.0"/>
<circle cx="394.60" cy="325.40" r="1.5" fill="#c80014" stroke="#000" stroke-width="1.0"/>
<circle cx="413.00" cy="290.00" r="1.5" fill="#0033a8" stroke="#000" stroke-width="1.0"/>
<circle cx="417.00" cy="291.50" r="1.5" fill="#0033a8" stroke="#000" stroke-width="1.0"/>
<circle cx="420.50" cy="292.00" r="1.5" fill="#0033a8" stroke="#000" stroke-width="1.0"/>
<circle cx="416.40" cy="296.50" r="1.5" fill="#0033a8" stroke="#000" stroke-width="1.0"/>
<circle cx="431.40" cy="322.00" r="1.5" fill="#c80014" stroke="#000" stroke-width="1.0"/>
<circle cx="427.50" cy="325.50" r="1.5" fill="#c80014" stroke="#000" stroke-width="1.0"/>
<circle cx="435.50" cy="326.50" r="1.5" fill="#c80014" stroke="#000" stroke-width="1.0"/>
<circle cx="431.40" cy="335.00" r="1.5" fill="#c80014" stroke="#000" stroke-width="1.0"/>
<polygon points="429.40,315.90 433.40,315.90 431.40,319.50" fill="#c80014" stroke="#000" stroke-width="0.9"/>
<circle cx="442.50" cy="290.50" r="1.5" fill="#0033a8" stroke="#000" stroke-width="1.0"/>
<circle cx="446.00" cy="291.50" r="1.5" fill="#0033a8" stroke="#000" stroke-width="1.0"/>
<circle cx="449.50" cy="292.00" r="1.5" fill="#0033a8" stroke="#000" stroke-width="1.0"/>
<circle cx="445.80" cy="296.00" r="1.5" fill="#0033a8" stroke="#000" stroke-width="1.0"/>
<circle cx="457.00" cy="317.50" r="1.5" fill="#c80014" stroke="#000" stroke-width="1.0"/>
<circle cx="464.50" cy="317.50" r="1.5" fill="#c80014" stroke="#000" stroke-width="1.0"/>
<circle cx="460.70" cy="322.50" r="1.5" fill="#c80014" stroke="#000" stroke-width="1.0"/>
<circle cx="460.70" cy="330.50" r="1.5" fill="#c80014" stroke="#000" stroke-width="1.0"/>
<polygon points="458.70,312.90 462.70,312.90 460.70,316.50" fill="#c80014" stroke="#000" stroke-width="0.9"/>
<line x1="338.60" y1="376.30" x2="470.40" y2="376.30" stroke="#000" stroke-width="1.5" />
<line x1="404.50" y1="288.00" x2="404.50" y2="376.00" stroke="#b6c7cc" stroke-width="0.9" />
<line x1="404.50" y1="288.00" x2="404.50" y2="376.00" stroke="#aabcc1" stroke-width="0.9"  stroke-dasharray="3,1.6"/>
<text x="373.80" y="281.70" font-size="7.6" text-anchor="middle" fill="#222" textLength="62.9" lengthAdjust="spacingAndGlyphs" >p=0.0152p=0.0087</text>
<line x1="346.50" y1="284.20" x2="362.00" y2="284.20" stroke="#000" stroke-width="1.25" />
<line x1="378.30" y1="284.20" x2="394.60" y2="284.20" stroke="#000" stroke-width="1.25" />
<text x="442.00" y="282.00" font-size="7.6" text-anchor="middle" fill="#222" textLength="63.2" lengthAdjust="spacingAndGlyphs" >p=0.0079p=0.0079</text>
<line x1="415.60" y1="284.60" x2="431.10" y2="284.60" stroke="#000" stroke-width="1.25" />
<line x1="447.50" y1="284.60" x2="463.00" y2="284.60" stroke="#000" stroke-width="1.25" />
<line x1="346.80" y1="383.80" x2="349.20" y2="383.80" stroke="#1a1a1a" stroke-width="1.0" />
<line x1="359.85" y1="383.80" x2="365.35" y2="383.80" stroke="#1a1a1a" stroke-width="1.0" />
<line x1="362.60" y1="381.70" x2="362.60" y2="385.90" stroke="#1a1a1a" stroke-width="1.0" />
<line x1="376.10" y1="383.80" x2="378.50" y2="383.80" stroke="#1a1a1a" stroke-width="1.0" />
<line x1="389.55" y1="383.80" x2="395.05" y2="383.80" stroke="#1a1a1a" stroke-width="1.0" />
<line x1="392.30" y1="381.70" x2="392.30" y2="385.90" stroke="#1a1a1a" stroke-width="1.0" />
<line x1="415.50" y1="383.80" x2="417.90" y2="383.80" stroke="#1a1a1a" stroke-width="1.0" />
<line x1="428.65" y1="383.80" x2="434.15" y2="383.80" stroke="#1a1a1a" stroke-width="1.0" />
<line x1="431.40" y1="381.70" x2="431.40" y2="385.90" stroke="#1a1a1a" stroke-width="1.0" />
<line x1="444.70" y1="383.80" x2="447.10" y2="383.80" stroke="#1a1a1a" stroke-width="1.0" />
<line x1="457.85" y1="383.80" x2="463.35" y2="383.80" stroke="#1a1a1a" stroke-width="1.0" />
<line x1="460.60" y1="381.70" x2="460.60" y2="385.90" stroke="#1a1a1a" stroke-width="1.0" />
<text x="471.00" y="387.00" font-size="7.6" text-anchor="start" fill="#222" textLength="41" lengthAdjust="spacingAndGlyphs" >Deci 0.5μM</text>
<line x1="340.00" y1="389.50" x2="369.00" y2="389.50" stroke="#000" stroke-width="1.25" />
<line x1="374.50" y1="389.50" x2="402.50" y2="389.50" stroke="#000" stroke-width="1.25" />
<line x1="407.00" y1="389.50" x2="435.00" y2="389.50" stroke="#000" stroke-width="1.25" />
<line x1="442.00" y1="389.50" x2="470.00" y2="389.50" stroke="#000" stroke-width="1.25" />
<text x="355.00" y="397.40" font-size="8" text-anchor="middle" fill="#222" textLength="19.7" lengthAdjust="spacingAndGlyphs" >day 2</text>
<text x="389.00" y="397.40" font-size="8" text-anchor="middle" fill="#222" textLength="19.7" lengthAdjust="spacingAndGlyphs" >day 4</text>
<text x="422.00" y="397.40" font-size="8" text-anchor="middle" fill="#222" textLength="19.7" lengthAdjust="spacingAndGlyphs" >day 2</text>
<text x="456.00" y="397.40" font-size="8" text-anchor="middle" fill="#222" textLength="19.7" lengthAdjust="spacingAndGlyphs" >day 4</text>
<line x1="337.50" y1="402.00" x2="403.00" y2="402.00" stroke="#000" stroke-width="1.25" />
<line x1="407.00" y1="402.00" x2="473.00" y2="402.00" stroke="#000" stroke-width="1.25" />
<text x="372.50" y="409.20" font-size="8.5" text-anchor="middle" font-weight="bold" font-family="Liberation Serif" textLength="5.53" lengthAdjust="spacingAndGlyphs" >α</text>
<text x="442.00" y="409.20" font-size="8.5" text-anchor="middle" font-weight="bold" font-family="Liberation Serif" >β</text>
<text x="7.20" y="430.40" font-size="11" text-anchor="start" font-weight="bold" textLength="5.9" lengthAdjust="spacingAndGlyphs" >F</text>
<text x="127.20" y="421.10" font-size="8.8" text-anchor="middle" fill="#111" textLength="33.6" lengthAdjust="spacingAndGlyphs" >NALM-6</text>
<line x1="58.00" y1="439.20" x2="58.00" y2="531.60" stroke="#000" stroke-width="1.4" />
<line x1="55.30" y1="439.70" x2="58.00" y2="439.70" stroke="#000" stroke-width="1.1" />
<text x="52.10" y="442.30" font-size="8.3" text-anchor="end" fill="#333" textLength="8.9" lengthAdjust="spacingAndGlyphs" >15</text>
<line x1="55.30" y1="470.30" x2="58.00" y2="470.30" stroke="#000" stroke-width="1.1" />
<text x="52.10" y="472.90" font-size="8.3" text-anchor="end" fill="#333" textLength="8.9" lengthAdjust="spacingAndGlyphs" >10</text>
<line x1="55.30" y1="500.80" x2="58.00" y2="500.80" stroke="#000" stroke-width="1.1" />
<text x="52.10" y="503.40" font-size="8.3" text-anchor="end" fill="#333" textLength="4.45" lengthAdjust="spacingAndGlyphs" >5</text>
<line x1="55.30" y1="531.20" x2="58.00" y2="531.20" stroke="#000" stroke-width="1.1" />
<text x="52.10" y="533.80" font-size="8.3" text-anchor="end" fill="#333" textLength="4.45" lengthAdjust="spacingAndGlyphs" >0</text>
<text x="0" y="0" font-size="9.9" text-anchor="middle" textLength="94" lengthAdjust="spacingAndGlyphs" fill="#222" style="stroke-width:0.08px" transform="translate(39.20,486.30) rotate(-90)">Relative expression miR-497</text>
<rect x="60.60" y="520.90" width="11.30" height="10.30" fill="#0033a8" />
<rect x="77.40" y="503.20" width="10.60" height="28.00" fill="#c80014" />
<rect x="93.50" y="512.70" width="11.30" height="18.50" fill="#0033a8" />
<rect x="109.90" y="462.50" width="11.00" height="68.70" fill="#c80014" />
<line x1="66.30" y1="513.20" x2="66.30" y2="530.00" stroke="#000" stroke-width="1.0" />
<line x1="63.90" y1="513.20" x2="68.70" y2="513.20" stroke="#000" stroke-width="1.0" />
<line x1="63.90" y1="530.00" x2="68.70" y2="530.00" stroke="#000" stroke-width="1.0" />
<line x1="82.70" y1="497.20" x2="82.70" y2="509.40" stroke="#000" stroke-width="1.0" />
<line x1="80.30" y1="497.20" x2="85.10" y2="497.20" stroke="#000" stroke-width="1.0" />
<line x1="80.30" y1="509.40" x2="85.10" y2="509.40" stroke="#000" stroke-width="1.0" />
<line x1="99.20" y1="508.10" x2="99.20" y2="516.30" stroke="#000" stroke-width="1.0" />
<line x1="96.80" y1="508.10" x2="101.60" y2="508.10" stroke="#000" stroke-width="1.0" />
<line x1="96.80" y1="516.30" x2="101.60" y2="516.30" stroke="#000" stroke-width="1.0" />
<line x1="115.40" y1="453.30" x2="115.40" y2="468.80" stroke="#000" stroke-width="1.0" />
<line x1="113.00" y1="453.30" x2="117.80" y2="453.30" stroke="#000" stroke-width="1.0" />
<line x1="113.00" y1="468.80" x2="117.80" y2="468.80" stroke="#000" stroke-width="1.0" />
<circle cx="66.30" cy="513.60" r="1.8" fill="#0033a8" stroke="#000" stroke-width="1.0"/>
<circle cx="66.30" cy="520.50" r="1.8" fill="#0033a8" stroke="#000" stroke-width="1.0"/>
<circle cx="66.30" cy="529.10" r="1.8" fill="#0033a8" stroke="#000" stroke-width="1.0"/>
<circle cx="79.80" cy="498.10" r="1.8" fill="#c80014" stroke="#000" stroke-width="1.0"/>
<circle cx="85.20" cy="500.80" r="1.8" fill="#c80014" stroke="#000" stroke-width="1.0"/>
<circle cx="82.90" cy="510.00" r="1.8" fill="#c80014" stroke="#000" stroke-width="1.0"/>
<circle cx="99.20" cy="509.00" r="1.8" fill="#0033a8" stroke="#000" stroke-width="1.0"/>
<circle cx="97.10" cy="515.40" r="1.8" fill="#0033a8" stroke="#000" stroke-width="1.0"/>
<circle cx="102.20" cy="514.00" r="1.8" fill="#0033a8" stroke="#000" stroke-width="1.0"/>
<circle cx="115.40" cy="453.90" r="1.8" fill="#c80014" stroke="#000" stroke-width="1.0"/>
<circle cx="113.60" cy="468.50" r="1.8" fill="#c80014" stroke="#000" stroke-width="1.0"/>
<circle cx="118.10" cy="468.50" r="1.8" fill="#c80014" stroke="#000" stroke-width="1.0"/>
<rect x="131.80" y="522.70" width="11.20" height="8.50" fill="#0033a8" />
<rect x="148.30" y="516.60" width="11.00" height="14.60" fill="#c80014" />
<rect x="164.80" y="518.70" width="11.00" height="12.50" fill="#0033a8" />
<rect x="181.10" y="485.30" width="11.20" height="45.90" fill="#c80014" />
<line x1="186.70" y1="460.50" x2="186.70" y2="508.10" stroke="#000" stroke-width="1.0" />
<line x1="184.30" y1="460.50" x2="189.10" y2="460.50" stroke="#000" stroke-width="1.0" />
<line x1="184.30" y1="508.10" x2="189.10" y2="508.10" stroke="#000" stroke-width="1.0" />
<circle cx="133.90" cy="524.40" r="1.8" fill="#0033a8" stroke="#000" stroke-width="1.0"/>
<circle cx="137.40" cy="524.40" r="1.8" fill="#0033a8" stroke="#000" stroke-width="1.0"/>
<circle cx="140.20" cy="523.60" r="1.8" fill="#0033a8" stroke="#000" stroke-width="1.0"/>
<circle cx="154.50" cy="513.50" r="1.8" fill="#c80014" stroke="#000" stroke-width="1.0"/>
<circle cx="156.50" cy="517.00" r="1.8" fill="#c80014" stroke="#000" stroke-width="1.0"/>
<circle cx="151.00" cy="521.00" r="1.8" fill="#c80014" stroke="#000" stroke-width="1.0"/>
<circle cx="167.30" cy="520.60" r="1.8" fill="#0033a8" stroke="#000" stroke-width="1.0"/>
<circle cx="170.30" cy="520.60" r="1.8" fill="#0033a8" stroke="#000" stroke-width="1.0"/>
<circle cx="173.70" cy="520.60" r="1.8" fill="#0033a8" stroke="#000" stroke-width="1.0"/>
<circle cx="186.70" cy="460.50" r="1.8" fill="#c80014" stroke="#000" stroke-width="1.0"/>
<circle cx="186.70" cy="492.70" r="1.8" fill="#c80014" stroke="#000" stroke-width="1.0"/>
<circle cx="186.70" cy="504.30" r="1.8" fill="#c80014" stroke="#000" stroke-width="1.0"/>
<line x1="58.00" y1="531.40" x2="195.20" y2="531.40" stroke="#000" stroke-width="1.5" />
<line x1="126.70" y1="438.00" x2="126.70" y2="531.00" stroke="#b6c7cc" stroke-width="0.9" />
<line x1="126.70" y1="438.00" x2="126.70" y2="531.00" stroke="#aabcc1" stroke-width="0.9"  stroke-dasharray="3,1.6"/>
<line x1="195.20" y1="439.30" x2="195.20" y2="531.60" stroke="#000" stroke-width="1.4" />
<line x1="195.20" y1="439.80" x2="198.40" y2="439.80" stroke="#000" stroke-width="1.1" />
<text x="201.60" y="442.40" font-size="7.5" text-anchor="start" fill="#333" textLength="7.5" lengthAdjust="spacingAndGlyphs" >20</text>
<line x1="195.20" y1="462.70" x2="198.40" y2="462.70" stroke="#000" stroke-width="1.1" />
<text x="201.60" y="465.30" font-size="7.5" text-anchor="start" fill="#333" textLength="7.5" lengthAdjust="spacingAndGlyphs" >15</text>
<line x1="195.20" y1="485.30" x2="198.40" y2="485.30" stroke="#000" stroke-width="1.1" />
<text x="201.60" y="487.90" font-size="7.5" text-anchor="start" fill="#333" textLength="7.5" lengthAdjust="spacingAndGlyphs" >10</text>
<line x1="195.20" y1="507.90" x2="198.40" y2="507.90" stroke="#000" stroke-width="1.1" />
<text x="201.60" y="510.50" font-size="7.5" text-anchor="start" fill="#333" textLength="3.75" lengthAdjust="spacingAndGlyphs" >5</text>
<line x1="195.20" y1="530.80" x2="198.40" y2="530.80" stroke="#000" stroke-width="1.1" />
<text x="201.60" y="533.40" font-size="7.5" text-anchor="start" fill="#333" textLength="3.75" lengthAdjust="spacingAndGlyphs" >0</text>
<text x="0" y="0" font-size="9.0" text-anchor="middle" textLength="63.4" lengthAdjust="spacingAndGlyphs" fill="#222" style="stroke-width:0.08px" transform="translate(224.40,485.30) rotate(90)">Relative expression</text>
<text x="0" y="0" font-size="9.0" text-anchor="middle" textLength="27.5" lengthAdjust="spacingAndGlyphs" fill="#222" style="stroke-width:0.08px" transform="translate(211.80,484.30) rotate(90)">miR-195</text>
<text x="91.60" y="434.20" font-size="7.6" text-anchor="middle" fill="#222" textLength="66.5" lengthAdjust="spacingAndGlyphs" >p=0.0298p=0.0005</text>
<line x1="66.40" y1="436.90" x2="82.90" y2="436.90" stroke="#000" stroke-width="1.25" />
<line x1="99.90" y1="436.90" x2="115.40" y2="436.90" stroke="#000" stroke-width="1.25" />
<text x="163.30" y="434.40" font-size="7.6" text-anchor="middle" fill="#222" textLength="67.2" lengthAdjust="spacingAndGlyphs" >p=0.0258 p=0.0564</text>
<line x1="137.30" y1="436.70" x2="152.50" y2="436.70" stroke="#000" stroke-width="1.25" />
<line x1="170.50" y1="436.70" x2="186.30" y2="436.70" stroke="#000" stroke-width="1.25" />
<line x1="64.05" y1="538.70" x2="69.55" y2="538.70" stroke="#1a1a1a" stroke-width="1.0" />
<line x1="80.35" y1="538.70" x2="85.85" y2="538.70" stroke="#1a1a1a" stroke-width="1.0" />
<line x1="83.10" y1="536.40" x2="83.10" y2="541.00" stroke="#1a1a1a" stroke-width="1.0" />
<line x1="96.15" y1="538.70" x2="101.65" y2="538.70" stroke="#1a1a1a" stroke-width="1.0" />
<line x1="112.25" y1="538.70" x2="117.75" y2="538.70" stroke="#1a1a1a" stroke-width="1.0" />
<line x1="115.00" y1="536.40" x2="115.00" y2="541.00" stroke="#1a1a1a" stroke-width="1.0" />
<line x1="135.35" y1="538.70" x2="140.85" y2="538.70" stroke="#1a1a1a" stroke-width="1.0" />
<line x1="150.85" y1="538.70" x2="156.35" y2="538.70" stroke="#1a1a1a" stroke-width="1.0" />
<line x1="153.60" y1="536.40" x2="153.60" y2="541.00" stroke="#1a1a1a" stroke-width="1.0" />
<line x1="167.75" y1="538.70" x2="173.25" y2="538.70" stroke="#1a1a1a" stroke-width="1.0" />
<line x1="183.55" y1="538.70" x2="189.05" y2="538.70" stroke="#1a1a1a" stroke-width="1.0" />
<line x1="186.30" y1="536.40" x2="186.30" y2="541.00" stroke="#1a1a1a" stroke-width="1.0" />
<text x="196.90" y="541.50" font-size="7.6" text-anchor="start" fill="#222" textLength="40.5" lengthAdjust="spacingAndGlyphs" >Deci 0.5μM</text>
<line x1="60.10" y1="543.00" x2="88.90" y2="543.00" stroke="#000" stroke-width="1.25" />
<line x1="94.70" y1="543.00" x2="124.40" y2="543.00" stroke="#000" stroke-width="1.25" />
<line x1="129.30" y1="543.00" x2="159.00" y2="543.00" stroke="#000" stroke-width="1.25" />
<line x1="164.80" y1="543.00" x2="193.60" y2="543.00" stroke="#000" stroke-width="1.25" />
<text x="75.40" y="550.80" font-size="8" text-anchor="middle" fill="#222" textLength="19.7" lengthAdjust="spacingAndGlyphs" >day 2</text>
<text x="109.10" y="550.80" font-size="8" text-anchor="middle" fill="#222" textLength="19.7" lengthAdjust="spacingAndGlyphs" >day 4</text>
<text x="144.60" y="550.80" font-size="8" text-anchor="middle" fill="#222" textLength="19.7" lengthAdjust="spacingAndGlyphs" >day 2</text>
<text x="178.40" y="550.80" font-size="8" text-anchor="middle" fill="#222" textLength="19.7" lengthAdjust="spacingAndGlyphs" >day 4</text>
<line x1="57.20" y1="555.40" x2="124.40" y2="555.40" stroke="#000" stroke-width="1.25" />
<line x1="129.30" y1="555.40" x2="192.80" y2="555.40" stroke="#000" stroke-width="1.25" />
<text x="93.30" y="562.80" font-size="7.9" text-anchor="middle" fill="#222" textLength="29" lengthAdjust="spacingAndGlyphs" >miR-497</text>
<text x="163.90" y="562.80" font-size="7.9" text-anchor="middle" fill="#222" textLength="29" lengthAdjust="spacingAndGlyphs" >miR-195</text>
<text x="290.80" y="430.30" font-size="11" text-anchor="start" font-weight="bold" >G</text>
<text x="404.20" y="423.80" font-size="8.6" text-anchor="middle" fill="#111" textLength="41" lengthAdjust="spacingAndGlyphs" >EU-3 (697)</text>
<line x1="338.10" y1="441.80" x2="338.10" y2="531.60" stroke="#000" stroke-width="1.4" />
<line x1="335.40" y1="442.30" x2="338.10" y2="442.30" stroke="#000" stroke-width="1.1" />
<text x="333.50" y="444.90" font-size="8.3" text-anchor="end" fill="#333" textLength="8.9" lengthAdjust="spacingAndGlyphs" >30</text>
<line x1="335.40" y1="472.00" x2="338.10" y2="472.00" stroke="#000" stroke-width="1.1" />
<text x="333.50" y="474.60" font-size="8.3" text-anchor="end" fill="#333" textLength="8.9" lengthAdjust="spacingAndGlyphs" >20</text>
<line x1="335.40" y1="501.60" x2="338.10" y2="501.60" stroke="#000" stroke-width="1.1" />
<text x="333.50" y="504.20" font-size="8.3" text-anchor="end" fill="#333" textLength="8.9" lengthAdjust="spacingAndGlyphs" >10</text>
<line x1="335.40" y1="531.20" x2="338.10" y2="531.20" stroke="#000" stroke-width="1.1" />
<text x="333.50" y="533.80" font-size="8.3" text-anchor="end" fill="#333" textLength="4.45" lengthAdjust="spacingAndGlyphs" >0</text>
<text x="0" y="0" font-size="9.8" text-anchor="middle" textLength="92.7" lengthAdjust="spacingAndGlyphs" fill="#222" style="stroke-width:0.08px" transform="translate(320.80,486.50) rotate(-90)">Relative expression miR-497</text>
<rect x="341.30" y="524.90" width="10.50" height="6.30" fill="#0033a8" />
<rect x="356.70" y="504.30" width="11.00" height="26.90" fill="#c80014" />
<rect x="373.00" y="525.50" width="10.60" height="5.70" fill="#0033a8" />
<rect x="388.90" y="467.90" width="10.50" height="63.30" fill="#c80014" />
<rect x="411.50" y="529.30" width="8.80" height="1.90" fill="#0033a8" />
<rect x="425.80" y="498.90" width="11.10" height="32.30" fill="#c80014" />
<rect x="442.70" y="528.50" width="9.20" height="2.70" fill="#0033a8" />
<rect x="457.70" y="460.80" width="11.10" height="70.40" fill="#c80014" />
<line x1="362.20" y1="482.50" x2="362.20" y2="526.10" stroke="#000" stroke-width="1.0" />
<line x1="359.80" y1="482.50" x2="364.60" y2="482.50" stroke="#000" stroke-width="1.0" />
<line x1="359.80" y1="526.10" x2="364.60" y2="526.10" stroke="#000" stroke-width="1.0" />
<line x1="394.20" y1="459.90" x2="394.20" y2="475.80" stroke="#000" stroke-width="1.0" />
<line x1="391.80" y1="459.90" x2="396.60" y2="459.90" stroke="#000" stroke-width="1.0" />
<line x1="391.80" y1="475.80" x2="396.60" y2="475.80" stroke="#000" stroke-width="1.0" />
<line x1="431.40" y1="486.90" x2="431.40" y2="509.20" stroke="#000" stroke-width="1.0" />
<line x1="429.00" y1="486.90" x2="433.80" y2="486.90" stroke="#000" stroke-width="1.0" />
<line x1="429.00" y1="509.20" x2="433.80" y2="509.20" stroke="#000" stroke-width="1.0" />
<line x1="463.30" y1="455.00" x2="463.30" y2="467.00" stroke="#000" stroke-width="1.0" />
<line x1="460.90" y1="455.00" x2="465.70" y2="455.00" stroke="#000" stroke-width="1.0" />
<line x1="460.90" y1="467.00" x2="465.70" y2="467.00" stroke="#000" stroke-width="1.0" />
<circle cx="343.40" cy="523.40" r="1.7" fill="#0033a8" stroke="#000" stroke-width="1.0"/>
<circle cx="347.00" cy="524.40" r="1.7" fill="#0033a8" stroke="#000" stroke-width="1.0"/>
<circle cx="349.70" cy="525.00" r="1.7" fill="#0033a8" stroke="#000" stroke-width="1.0"/>
<circle cx="362.20" cy="480.00" r="1.9" fill="#000" stroke="none" stroke-width="0"/>
<circle cx="362.20" cy="512.80" r="1.9" fill="#000" stroke="none" stroke-width="0"/>
<circle cx="362.20" cy="520.60" r="1.9" fill="#000" stroke="none" stroke-width="0"/>
<circle cx="375.10" cy="523.40" r="1.7" fill="#0033a8" stroke="#000" stroke-width="1.0"/>
<circle cx="378.70" cy="526.10" r="1.7" fill="#0033a8" stroke="#000" stroke-width="1.0"/>
<circle cx="381.40" cy="524.40" r="1.7" fill="#0033a8" stroke="#000" stroke-width="1.0"/>
<circle cx="391.00" cy="461.40" r="1.9" fill="#000" stroke="none" stroke-width="0"/>
<circle cx="396.90" cy="465.20" r="1.9" fill="#000" stroke="none" stroke-width="0"/>
<circle cx="394.20" cy="476.40" r="1.9" fill="#000" stroke="none" stroke-width="0"/>
<circle cx="413.00" cy="529.50" r="1.7" fill="#0033a8" stroke="#000" stroke-width="1.0"/>
<circle cx="416.00" cy="530.50" r="1.7" fill="#0033a8" stroke="#000" stroke-width="1.0"/>
<circle cx="419.00" cy="529.80" r="1.7" fill="#0033a8" stroke="#000" stroke-width="1.0"/>
<circle cx="431.40" cy="486.20" r="1.9" fill="#000" stroke="none" stroke-width="0"/>
<circle cx="428.20" cy="505.10" r="1.9" fill="#000" stroke="none" stroke-width="0"/>
<circle cx="434.20" cy="504.60" r="1.9" fill="#000" stroke="none" stroke-width="0"/>
<circle cx="443.50" cy="527.50" r="1.7" fill="#0033a8" stroke="#000" stroke-width="1.0"/>
<circle cx="447.00" cy="530.00" r="1.7" fill="#0033a8" stroke="#000" stroke-width="1.0"/>
<circle cx="450.50" cy="530.80" r="1.7" fill="#0033a8" stroke="#000" stroke-width="1.0"/>
<circle cx="460.50" cy="456.20" r="1.9" fill="#000" stroke="none" stroke-width="0"/>
<circle cx="466.90" cy="458.00" r="1.9" fill="#000" stroke="none" stroke-width="0"/>
<circle cx="463.30" cy="467.70" r="1.9" fill="#000" stroke="none" stroke-width="0"/>
<line x1="338.10" y1="531.40" x2="471.40" y2="531.40" stroke="#000" stroke-width="1.5" />
<line x1="404.60" y1="442.00" x2="404.60" y2="531.00" stroke="#b6c7cc" stroke-width="0.9" />
<line x1="404.60" y1="442.00" x2="404.60" y2="531.00" stroke="#aabcc1" stroke-width="0.9"  stroke-dasharray="3,1.6"/>
<line x1="471.40" y1="441.80" x2="471.40" y2="531.60" stroke="#000" stroke-width="1.4" />
<line x1="471.40" y1="442.30" x2="474.60" y2="442.30" stroke="#000" stroke-width="1.1" />
<text x="477.60" y="445.10" font-size="7.5" text-anchor="start" fill="#333" textLength="11.25" lengthAdjust="spacingAndGlyphs" >200</text>
<line x1="471.40" y1="464.70" x2="474.60" y2="464.70" stroke="#000" stroke-width="1.1" />
<text x="477.60" y="467.50" font-size="7.5" text-anchor="start" fill="#333" textLength="11.25" lengthAdjust="spacingAndGlyphs" >150</text>
<line x1="471.40" y1="486.80" x2="474.60" y2="486.80" stroke="#000" stroke-width="1.1" />
<text x="477.60" y="489.60" font-size="7.5" text-anchor="start" fill="#333" textLength="11.25" lengthAdjust="spacingAndGlyphs" >100</text>
<line x1="471.40" y1="509.20" x2="474.60" y2="509.20" stroke="#000" stroke-width="1.1" />
<text x="477.60" y="512.00" font-size="7.5" text-anchor="start" fill="#333" textLength="7.5" lengthAdjust="spacingAndGlyphs" >50</text>
<line x1="471.40" y1="531.20" x2="474.60" y2="531.20" stroke="#000" stroke-width="1.1" />
<text x="477.60" y="534.00" font-size="7.5" text-anchor="start" fill="#333" textLength="3.75" lengthAdjust="spacingAndGlyphs" >0</text>
<text x="0" y="0" font-size="9.2" text-anchor="middle" textLength="63.8" lengthAdjust="spacingAndGlyphs" fill="#222" style="stroke-width:0.08px" transform="translate(506.30,486.90) rotate(90)">Relative expression</text>
<text x="0" y="0" font-size="9.2" text-anchor="middle" textLength="28.5" lengthAdjust="spacingAndGlyphs" fill="#222" style="stroke-width:0.08px" transform="translate(494.50,485.70) rotate(90)">miR-195</text>
<text x="373.30" y="436.60" font-size="7.6" text-anchor="middle" fill="#222" textLength="64.1" lengthAdjust="spacingAndGlyphs" >p=0.1775p=0.0002</text>
<line x1="347.00" y1="439.50" x2="362.40" y2="439.50" stroke="#000" stroke-width="1.25" />
<line x1="378.70" y1="439.50" x2="394.10" y2="439.50" stroke="#000" stroke-width="1.25" />
<text x="442.10" y="436.50" font-size="7.6" text-anchor="middle" fill="#222" textLength="63.4" lengthAdjust="spacingAndGlyphs" >p=0.0080p&lt;0.0001</text>
<line x1="415.00" y1="439.30" x2="430.50" y2="439.30" stroke="#000" stroke-width="1.25" />
<line x1="447.30" y1="439.30" x2="462.80" y2="439.30" stroke="#000" stroke-width="1.25" />
<line x1="345.80" y1="538.30" x2="348.20" y2="538.30" stroke="#1a1a1a" stroke-width="1.0" />
<line x1="359.65" y1="538.30" x2="365.15" y2="538.30" stroke="#1a1a1a" stroke-width="1.0" />
<line x1="362.40" y1="536.00" x2="362.40" y2="540.60" stroke="#1a1a1a" stroke-width="1.0" />
<line x1="377.10" y1="538.30" x2="379.50" y2="538.30" stroke="#1a1a1a" stroke-width="1.0" />
<line x1="391.35" y1="538.30" x2="396.85" y2="538.30" stroke="#1a1a1a" stroke-width="1.0" />
<line x1="394.10" y1="536.00" x2="394.10" y2="540.60" stroke="#1a1a1a" stroke-width="1.0" />
<line x1="413.80" y1="538.30" x2="416.20" y2="538.30" stroke="#1a1a1a" stroke-width="1.0" />
<line x1="428.45" y1="538.30" x2="433.95" y2="538.30" stroke="#1a1a1a" stroke-width="1.0" />
<line x1="431.20" y1="536.00" x2="431.20" y2="540.60" stroke="#1a1a1a" stroke-width="1.0" />
<line x1="446.10" y1="538.30" x2="448.50" y2="538.30" stroke="#1a1a1a" stroke-width="1.0" />
<line x1="460.05" y1="538.30" x2="465.55" y2="538.30" stroke="#1a1a1a" stroke-width="1.0" />
<line x1="462.80" y1="536.00" x2="462.80" y2="540.60" stroke="#1a1a1a" stroke-width="1.0" />
<text x="472.70" y="541.50" font-size="7.6" text-anchor="start" fill="#222" textLength="40.8" lengthAdjust="spacingAndGlyphs" >Deci 0.5μM</text>
<line x1="340.10" y1="542.40" x2="368.90" y2="542.40" stroke="#000" stroke-width="1.25" />
<line x1="374.70" y1="542.40" x2="403.60" y2="542.40" stroke="#000" stroke-width="1.25" />
<line x1="407.90" y1="542.40" x2="436.70" y2="542.40" stroke="#000" stroke-width="1.25" />
<line x1="441.90" y1="542.40" x2="471.30" y2="542.40" stroke="#000" stroke-width="1.25" />
<text x="354.50" y="550.80" font-size="8" text-anchor="middle" fill="#222" textLength="19.7" lengthAdjust="spacingAndGlyphs" >day 2</text>
<text x="389.10" y="550.80" font-size="8" text-anchor="middle" fill="#222" textLength="19.7" lengthAdjust="spacingAndGlyphs" >day 4</text>
<text x="422.30" y="550.80" font-size="8" text-anchor="middle" fill="#222" textLength="19.7" lengthAdjust="spacingAndGlyphs" >day 2</text>
<text x="456.30" y="550.80" font-size="8" text-anchor="middle" fill="#222" textLength="19.7" lengthAdjust="spacingAndGlyphs" >day 4</text>
<line x1="337.20" y1="554.60" x2="403.60" y2="554.60" stroke="#000" stroke-width="1.25" />
<line x1="407.90" y1="554.60" x2="474.20" y2="554.60" stroke="#000" stroke-width="1.25" />
<text x="373.30" y="562.30" font-size="7.9" text-anchor="middle" fill="#222" textLength="29" lengthAdjust="spacingAndGlyphs" >miR-497</text>
<text x="441.00" y="562.30" font-size="7.9" text-anchor="middle" fill="#222" textLength="29" lengthAdjust="spacingAndGlyphs" >miR-195</text>
<text x="7.30" y="580.30" font-size="11" text-anchor="start" font-weight="bold" >H</text>
<text x="108.30" y="577.70" font-size="9.6" text-anchor="middle" fill="#111" textLength="35.2" lengthAdjust="spacingAndGlyphs" >NALM-6</text>
<line x1="57.30" y1="593.90" x2="57.30" y2="690.30" stroke="#000" stroke-width="1.4" />
<line x1="54.60" y1="594.40" x2="57.30" y2="594.40" stroke="#000" stroke-width="1.1" />
<text x="51.50" y="597.00" font-size="8.3" text-anchor="end" fill="#333" textLength="12.899999999999999" lengthAdjust="spacingAndGlyphs" >100</text>
<line x1="54.60" y1="642.30" x2="57.30" y2="642.30" stroke="#000" stroke-width="1.1" />
<text x="51.50" y="644.90" font-size="8.3" text-anchor="end" fill="#333" textLength="8.6" lengthAdjust="spacingAndGlyphs" >50</text>
<line x1="54.60" y1="689.90" x2="57.30" y2="689.90" stroke="#000" stroke-width="1.1" />
<text x="51.50" y="692.50" font-size="8.3" text-anchor="end" fill="#333" textLength="4.3" lengthAdjust="spacingAndGlyphs" >0</text>
<text x="0" y="0" font-size="9.2" text-anchor="middle" textLength="50.5" lengthAdjust="spacingAndGlyphs" fill="#222" style="stroke-width:0.08px" transform="translate(37.90,642.30) rotate(-90)">Viable cells [%]</text>
<rect x="60.00" y="599.20" width="8.10" height="90.70" fill="#0033a8" />
<rect x="73.50" y="599.20" width="8.60" height="90.70" fill="#c80014" />
<rect x="96.40" y="597.90" width="8.60" height="92.00" fill="#0033a8" />
<rect x="109.80" y="612.70" width="8.60" height="77.20" fill="#c80014" />
<rect x="132.70" y="610.80" width="8.60" height="79.10" fill="#0033a8" />
<rect x="146.20" y="640.20" width="8.60" height="49.70" fill="#c80014" />
<line x1="137.00" y1="601.90" x2="137.00" y2="619.00" stroke="#000" stroke-width="1.0" />
<line x1="134.60" y1="601.90" x2="139.40" y2="601.90" stroke="#000" stroke-width="1.0" />
<line x1="134.60" y1="619.00" x2="139.40" y2="619.00" stroke="#000" stroke-width="1.0" />
<circle cx="60.70" cy="599.60" r="1.6" fill="#0033a8" stroke="#000" stroke-width="1.0"/>
<circle cx="64.00" cy="598.00" r="1.6" fill="#0033a8" stroke="#000" stroke-width="1.0"/>
<circle cx="67.30" cy="599.60" r="1.6" fill="#0033a8" stroke="#000" stroke-width="1.0"/>
<circle cx="74.60" cy="599.60" r="1.6" fill="#c80014" stroke="#000" stroke-width="1.0"/>
<circle cx="77.80" cy="598.00" r="1.6" fill="#c80014" stroke="#000" stroke-width="1.0"/>
<circle cx="81.00" cy="599.60" r="1.6" fill="#c80014" stroke="#000" stroke-width="1.0"/>
<circle cx="97.20" cy="598.00" r="1.6" fill="#0033a8" stroke="#000" stroke-width="1.0"/>
<circle cx="100.70" cy="597.60" r="1.6" fill="#0033a8" stroke="#000" stroke-width="1.0"/>
<circle cx="103.60" cy="597.60" r="1.6" fill="#0033a8" stroke="#000" stroke-width="1.0"/>
<circle cx="110.60" cy="613.50" r="1.6" fill="#c80014" stroke="#000" stroke-width="1.0"/>
<circle cx="114.10" cy="609.80" r="1.6" fill="#c80014" stroke="#000" stroke-width="1.0"/>
<circle cx="117.90" cy="613.50" r="1.6" fill="#c80014" stroke="#000" stroke-width="1.0"/>
<circle cx="133.50" cy="603.30" r="1.6" fill="#0033a8" stroke="#000" stroke-width="1.0"/>
<circle cx="140.80" cy="606.80" r="1.6" fill="#0033a8" stroke="#000" stroke-width="1.0"/>
<circle cx="137.00" cy="619.40" r="1.6" fill="#0033a8" stroke="#000" stroke-width="1.0"/>
<circle cx="147.50" cy="640.40" r="1.6" fill="#c80014" stroke="#000" stroke-width="1.0"/>
<circle cx="150.50" cy="639.10" r="1.6" fill="#c80014" stroke="#000" stroke-width="1.0"/>
<circle cx="153.70" cy="640.40" r="1.6" fill="#c80014" stroke="#000" stroke-width="1.0"/>
<line x1="57.30" y1="690.10" x2="157.00" y2="690.10" stroke="#000" stroke-width="1.5" />
<text x="72.80" y="588.50" font-size="7.6" text-anchor="middle" fill="#222" textLength="33.6" lengthAdjust="spacingAndGlyphs" >p&gt;0.9999</text>
<line x1="65.40" y1="591.20" x2="80.20" y2="591.20" stroke="#000" stroke-width="1.25" />
<text x="110.90" y="588.50" font-size="7.6" text-anchor="middle" fill="#222" textLength="32.8" lengthAdjust="spacingAndGlyphs" >p=0.0004</text>
<line x1="103.10" y1="591.20" x2="116.50" y2="591.20" stroke="#000" stroke-width="1.25" />
<text x="149.30" y="588.50" font-size="7.6" text-anchor="middle" fill="#222" textLength="33.2" lengthAdjust="spacingAndGlyphs" >p=0.0038</text>
<line x1="139.40" y1="591.20" x2="154.20" y2="591.20" stroke="#000" stroke-width="1.25" />
<line x1="61.70" y1="700.00" x2="67.50" y2="700.00" stroke="#1a1a1a" stroke-width="1.0" />
<line x1="74.80" y1="700.00" x2="80.80" y2="700.00" stroke="#1a1a1a" stroke-width="1.0" />
<line x1="77.80" y1="697.20" x2="77.80" y2="702.80" stroke="#1a1a1a" stroke-width="1.0" />
<line x1="98.30" y1="700.00" x2="104.10" y2="700.00" stroke="#1a1a1a" stroke-width="1.0" />
<line x1="111.10" y1="700.00" x2="117.10" y2="700.00" stroke="#1a1a1a" stroke-width="1.0" />
<line x1="114.10" y1="697.20" x2="114.10" y2="702.80" stroke="#1a1a1a" stroke-width="1.0" />
<line x1="134.80" y1="700.00" x2="140.60" y2="700.00" stroke="#1a1a1a" stroke-width="1.0" />
<line x1="148.00" y1="700.00" x2="154.00" y2="700.00" stroke="#1a1a1a" stroke-width="1.0" />
<line x1="151.00" y1="697.20" x2="151.00" y2="702.80" stroke="#1a1a1a" stroke-width="1.0" />
<text x="162.10" y="701.60" font-size="7.6" text-anchor="start" fill="#222" textLength="41.5" lengthAdjust="spacingAndGlyphs" >Deci 0.5μM</text>
<line x1="58.00" y1="704.20" x2="87.30" y2="704.20" stroke="#000" stroke-width="1.25" />
<line x1="93.50" y1="704.20" x2="124.20" y2="704.20" stroke="#000" stroke-width="1.25" />
<line x1="130.40" y1="704.20" x2="158.10" y2="704.20" stroke="#000" stroke-width="1.25" />
<text x="73.20" y="712.60" font-size="8" text-anchor="middle" fill="#222" textLength="19.7" lengthAdjust="spacingAndGlyphs" >day 0</text>
<text x="108.10" y="712.60" font-size="8" text-anchor="middle" fill="#222" textLength="19.7" lengthAdjust="spacingAndGlyphs" >day 2</text>
<text x="144.90" y="712.60" font-size="8" text-anchor="middle" fill="#222" textLength="19.7" lengthAdjust="spacingAndGlyphs" >day 4</text>
<text x="291.30" y="580.70" font-size="11.7" text-anchor="start" font-weight="bold" textLength="2.3" lengthAdjust="spacingAndGlyphs" >I</text>
<text x="384.20" y="577.20" font-size="8.6" text-anchor="middle" fill="#111" textLength="43" lengthAdjust="spacingAndGlyphs" >EU-3 (697)</text>
<line x1="335.20" y1="594.10" x2="335.20" y2="690.00" stroke="#000" stroke-width="1.4" />
<line x1="332.50" y1="594.30" x2="335.20" y2="594.30" stroke="#000" stroke-width="1.1" />
<text x="329.60" y="596.90" font-size="8.3" text-anchor="end" fill="#333" textLength="12.899999999999999" lengthAdjust="spacingAndGlyphs" >100</text>
<line x1="332.50" y1="641.90" x2="335.20" y2="641.90" stroke="#000" stroke-width="1.1" />
<text x="329.60" y="644.50" font-size="8.3" text-anchor="end" fill="#333" textLength="8.6" lengthAdjust="spacingAndGlyphs" >50</text>
<line x1="332.50" y1="689.60" x2="335.20" y2="689.60" stroke="#000" stroke-width="1.1" />
<text x="329.60" y="692.20" font-size="8.3" text-anchor="end" fill="#333" textLength="4.3" lengthAdjust="spacingAndGlyphs" >0</text>
<text x="0" y="0" font-size="9.2" text-anchor="middle" textLength="50.5" lengthAdjust="spacingAndGlyphs" fill="#222" style="stroke-width:0.08px" transform="translate(315.30,642.30) rotate(-90)">Viable cells [%]</text>
<rect x="337.50" y="602.40" width="8.60" height="87.20" fill="#0033a8" />
<rect x="351.30" y="602.40" width="8.40" height="87.20" fill="#c80014" />
<rect x="373.50" y="598.10" width="8.70" height="91.50" fill="#0033a8" />
<rect x="387.40" y="639.90" width="8.60" height="49.70" fill="#c80014" />
<rect x="410.20" y="606.70" width="8.60" height="82.90" fill="#0033a8" />
<rect x="424.00" y="677.40" width="8.70" height="12.20" fill="#c80014" />
<line x1="341.80" y1="596.10" x2="341.80" y2="607.30" stroke="#000" stroke-width="1.0" />
<line x1="339.40" y1="596.10" x2="344.20" y2="596.10" stroke="#000" stroke-width="1.0" />
<line x1="339.40" y1="607.30" x2="344.20" y2="607.30" stroke="#000" stroke-width="1.0" />
<line x1="355.50" y1="596.10" x2="355.50" y2="607.30" stroke="#000" stroke-width="1.0" />
<line x1="353.10" y1="596.10" x2="357.90" y2="596.10" stroke="#000" stroke-width="1.0" />
<line x1="353.10" y1="607.30" x2="357.90" y2="607.30" stroke="#000" stroke-width="1.0" />
<line x1="391.70" y1="632.70" x2="391.70" y2="646.50" stroke="#000" stroke-width="1.0" />
<line x1="389.30" y1="632.70" x2="394.10" y2="632.70" stroke="#000" stroke-width="1.0" />
<line x1="389.30" y1="646.50" x2="394.10" y2="646.50" stroke="#000" stroke-width="1.0" />
<line x1="414.50" y1="599.50" x2="414.50" y2="613.10" stroke="#000" stroke-width="1.0" />
<line x1="412.10" y1="599.50" x2="416.90" y2="599.50" stroke="#000" stroke-width="1.0" />
<line x1="412.10" y1="613.10" x2="416.90" y2="613.10" stroke="#000" stroke-width="1.0" />
<circle cx="338.90" cy="597.50" r="1.6" fill="#0033a8" stroke="#000" stroke-width="1.0"/>
<circle cx="344.70" cy="599.50" r="1.6" fill="#0033a8" stroke="#000" stroke-width="1.0"/>
<circle cx="341.80" cy="607.30" r="1.6" fill="#0033a8" stroke="#000" stroke-width="1.0"/>
<circle cx="351.90" cy="597.50" r="1.6" fill="#c80014" stroke="#000" stroke-width="1.0"/>
<circle cx="357.70" cy="598.00" r="1.6" fill="#c80014" stroke="#000" stroke-width="1.0"/>
<circle cx="355.50" cy="607.30" r="1.6" fill="#c80014" stroke="#000" stroke-width="1.0"/>
<circle cx="375.60" cy="598.10" r="1.6" fill="#0033a8" stroke="#000" stroke-width="1.0"/>
<circle cx="377.80" cy="597.50" r="1.6" fill="#0033a8" stroke="#000" stroke-width="1.0"/>
<circle cx="380.80" cy="598.10" r="1.6" fill="#0033a8" stroke="#000" stroke-width="1.0"/>
<circle cx="391.70" cy="637.90" r="1.6" fill="#c80014" stroke="#000" stroke-width="1.0"/>
<circle cx="391.70" cy="646.50" r="1.6" fill="#c80014" stroke="#000" stroke-width="1.0"/>
<polygon points="389.70,632.50 393.70,632.50 391.70,636.10" fill="#c80014" stroke="#000" stroke-width="0.9"/>
<circle cx="414.50" cy="603.80" r="1.6" fill="#0033a8" stroke="#000" stroke-width="1.0"/>
<circle cx="414.50" cy="613.10" r="1.6" fill="#0033a8" stroke="#000" stroke-width="1.0"/>
<polygon points="412.50,598.80 416.50,598.80 414.50,602.40" fill="#0033a8" stroke="#000" stroke-width="0.9"/>
<circle cx="424.60" cy="676.00" r="1.6" fill="#c80014" stroke="#000" stroke-width="1.0"/>
<circle cx="427.50" cy="675.00" r="1.6" fill="#c80014" stroke="#000" stroke-width="1.0"/>
<circle cx="431.20" cy="675.50" r="1.6" fill="#c80014" stroke="#000" stroke-width="1.0"/>
<circle cx="428.30" cy="674.00" r="1.6" fill="#c80014" stroke="#000" stroke-width="1.0"/>
<line x1="335.20" y1="689.80" x2="435.00" y2="689.80" stroke="#000" stroke-width="1.5" />
<text x="350.50" y="588.80" font-size="7.6" text-anchor="middle" fill="#222" textLength="34.6" lengthAdjust="spacingAndGlyphs" >p&gt;0.9999</text>
<line x1="341.80" y1="591.40" x2="359.10" y2="591.40" stroke="#000" stroke-width="1.25" />
<text x="387.00" y="588.80" font-size="7.6" text-anchor="middle" fill="#222" textLength="32.6" lengthAdjust="spacingAndGlyphs" >p=0.0006</text>
<line x1="377.90" y1="591.40" x2="394.60" y2="591.40" stroke="#000" stroke-width="1.25" />
<text x="426.90" y="588.80" font-size="7.6" text-anchor="middle" fill="#222" textLength="31.8" lengthAdjust="spacingAndGlyphs" >p=0.0001</text>
<line x1="416.80" y1="591.40" x2="432.70" y2="591.40" stroke="#000" stroke-width="1.25" />
<line x1="339.40" y1="699.60" x2="345.20" y2="699.60" stroke="#1a1a1a" stroke-width="1.0" />
<line x1="352.40" y1="699.60" x2="358.40" y2="699.60" stroke="#1a1a1a" stroke-width="1.0" />
<line x1="355.40" y1="696.80" x2="355.40" y2="702.40" stroke="#1a1a1a" stroke-width="1.0" />
<line x1="375.80" y1="699.60" x2="381.60" y2="699.60" stroke="#1a1a1a" stroke-width="1.0" />
<line x1="388.80" y1="699.60" x2="394.80" y2="699.60" stroke="#1a1a1a" stroke-width="1.0" />
<line x1="391.80" y1="696.80" x2="391.80" y2="702.40" stroke="#1a1a1a" stroke-width="1.0" />
<line x1="412.10" y1="699.60" x2="417.90" y2="699.60" stroke="#1a1a1a" stroke-width="1.0" />
<line x1="425.00" y1="699.60" x2="431.00" y2="699.60" stroke="#1a1a1a" stroke-width="1.0" />
<line x1="428.00" y1="696.80" x2="428.00" y2="702.40" stroke="#1a1a1a" stroke-width="1.0" />
<text x="440.00" y="701.60" font-size="7.6" text-anchor="start" fill="#222" textLength="41.5" lengthAdjust="spacingAndGlyphs" >Deci 0.5μM</text>
<line x1="335.20" y1="704.20" x2="360.60" y2="704.20" stroke="#000" stroke-width="1.25" />
<line x1="370.70" y1="704.20" x2="399.50" y2="704.20" stroke="#000" stroke-width="1.25" />
<line x1="407.30" y1="704.20" x2="434.10" y2="704.20" stroke="#000" stroke-width="1.25" />
<text x="350.10" y="712.60" font-size="8" text-anchor="middle" fill="#222" textLength="19.7" lengthAdjust="spacingAndGlyphs" >day 0</text>
<text x="385.50" y="712.60" font-size="8" text-anchor="middle" fill="#222" textLength="19.7" lengthAdjust="spacingAndGlyphs" >day 2</text>
<text x="422.00" y="712.60" font-size="8" text-anchor="middle" fill="#222" textLength="19.7" lengthAdjust="spacingAndGlyphs" >day 4</text>
<line x1="64.00" y1="690.20" x2="64.00" y2="692.60" stroke="#000" stroke-width="1.0" />
<line x1="77.50" y1="690.20" x2="77.50" y2="692.60" stroke="#000" stroke-width="1.0" />
<line x1="100.70" y1="690.20" x2="100.70" y2="692.60" stroke="#000" stroke-width="1.0" />
<line x1="114.10" y1="690.20" x2="114.10" y2="692.60" stroke="#000" stroke-width="1.0" />
<line x1="137.00" y1="690.20" x2="137.00" y2="692.60" stroke="#000" stroke-width="1.0" />
<line x1="150.50" y1="690.20" x2="150.50" y2="692.60" stroke="#000" stroke-width="1.0" />
<line x1="341.80" y1="689.80" x2="341.80" y2="692.40" stroke="#000" stroke-width="1.0" />
<line x1="355.50" y1="689.80" x2="355.50" y2="692.40" stroke="#000" stroke-width="1.0" />
<line x1="377.80" y1="689.80" x2="377.80" y2="692.40" stroke="#000" stroke-width="1.0" />
<line x1="391.70" y1="689.80" x2="391.70" y2="692.40" stroke="#000" stroke-width="1.0" />
<line x1="414.50" y1="689.80" x2="414.50" y2="692.40" stroke="#000" stroke-width="1.0" />
<line x1="428.30" y1="689.80" x2="428.30" y2="692.40" stroke="#000" stroke-width="1.0" />
</svg></body></html>
